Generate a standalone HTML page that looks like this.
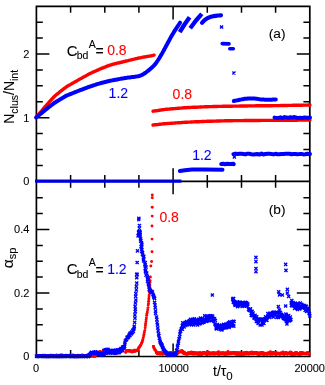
<!DOCTYPE html>
<html><head><meta charset="utf-8"><title>chart</title>
<style>html,body{margin:0;padding:0;background:#fff;}body{width:325px;height:385px;overflow:hidden;font-family:"Liberation Sans",sans-serif;}svg{display:block;will-change:transform;}</style>
</head><body>
<svg width="325" height="385" viewBox="0 0 325 385">
<rect width="100%" height="100%" fill="#fff"/>
<path d="M36.4 6.4 H309.8 V356.5 H36.4 Z M36.4 181.3 H309.8" fill="none" stroke="#000" stroke-width="1.70"/>
<path d="M70.6 6.4 v6.4 M70.6 174.9 v12.8 M70.6 356.5 v-6.4 M104.8 6.4 v6.4 M104.8 174.9 v12.8 M104.8 356.5 v-6.4 M138.9 6.4 v6.4 M138.9 174.9 v12.8 M138.9 356.5 v-6.4 M173.1 6.4 v13.0 M173.1 168.3 v26.0 M173.1 356.5 v-13.0 M207.3 6.4 v6.4 M207.3 174.9 v12.8 M207.3 356.5 v-6.4 M241.5 6.4 v6.4 M241.5 174.9 v12.8 M241.5 356.5 v-6.4 M275.6 6.4 v6.4 M275.6 174.9 v12.8 M275.6 356.5 v-6.4 M36.4 165.4 h6.4 M309.8 165.4 h-6.4 M36.4 149.5 h6.4 M309.8 149.5 h-6.4 M36.4 133.6 h6.4 M309.8 133.6 h-6.4 M36.4 117.7 h13.0 M309.8 117.7 h-13.0 M36.4 101.7 h6.4 M309.8 101.7 h-6.4 M36.4 85.8 h6.4 M309.8 85.8 h-6.4 M36.4 69.9 h6.4 M309.8 69.9 h-6.4 M36.4 54.0 h13.0 M309.8 54.0 h-13.0 M36.4 38.1 h6.4 M309.8 38.1 h-6.4 M36.4 22.2 h6.4 M309.8 22.2 h-6.4 M36.4 340.6 h6.4 M309.8 340.6 h-6.4 M36.4 324.8 h6.4 M309.8 324.8 h-6.4 M36.4 308.9 h6.4 M309.8 308.9 h-6.4 M36.4 293.0 h13.0 M309.8 293.0 h-13.0 M36.4 277.1 h6.4 M309.8 277.1 h-6.4 M36.4 261.2 h6.4 M309.8 261.2 h-6.4 M36.4 245.4 h6.4 M309.8 245.4 h-6.4 M36.4 229.5 h13.0 M309.8 229.5 h-13.0 M36.4 213.6 h6.4 M309.8 213.6 h-6.4 M36.4 197.8 h6.4 M309.8 197.8 h-6.4" fill="none" stroke="#000" stroke-width="1.5"/>
<g>
<path d="M36.1 117.5 L37.1 116.3 L38.1 115.1 L39.1 113.9 L40.1 112.7 L41.1 111.5 L42.1 110.3 L43.1 109.1 L44.1 107.9 L45.1 106.7 L46.1 105.6 L47.1 104.5 L48.1 103.3 L49.1 102.2 L50.1 101.1 L51.1 100.0 L52.1 98.9 L53.1 97.8 L54.1 96.8 L55.1 95.8 L56.1 94.9 L57.1 94.1 L58.1 93.3 L59.1 92.5 L60.1 91.7 L61.1 90.9 L62.1 90.1 L63.1 89.3 L64.1 88.5 L65.1 87.8 L66.1 87.1 L67.1 86.4 L68.1 85.8 L69.1 85.2 L70.1 84.7 L71.1 84.1 L72.1 83.5 L73.1 82.9 L74.1 82.4 L75.1 81.8 L76.1 81.2 L77.1 80.7 L78.1 80.1 L79.1 79.5 L80.1 79.0 L81.1 78.4 L82.1 77.9 L83.1 77.3 L84.1 76.8 L85.1 76.2 L86.1 75.7 L87.1 75.1 L88.1 74.5 L89.1 74.0 L90.1 73.5 L91.1 73.0 L92.1 72.6 L93.1 72.1 L94.1 71.7 L95.1 71.2 L96.1 70.8 L97.1 70.3 L98.1 69.9 L99.1 69.4 L100.1 69.0 L101.1 68.6 L102.1 68.2 L103.1 67.8 L104.1 67.4 L105.1 67.0 L106.1 66.6 L107.1 66.2 L108.1 65.8 L109.1 65.4 L110.1 65.1 L111.1 64.8 L112.1 64.5 L113.1 64.2 L114.1 64.0 L115.1 63.7 L116.1 63.5 L117.1 63.2 L118.1 63.0 L119.1 62.8 L120.1 62.5 L121.1 62.3 L122.1 62.0 L123.1 61.8 L124.1 61.5 L125.1 61.3 L126.1 61.0 L127.1 60.8 L128.1 60.6 L129.1 60.3 L130.1 60.1 L131.1 59.9 L132.1 59.6 L133.1 59.4 L134.1 59.2 L135.1 58.9 L136.1 58.7 L137.1 58.5 L138.1 58.2 L139.1 58.0 L140.1 57.8 L141.1 57.6 L142.1 57.4 L143.1 57.2 L144.1 57.0 L145.1 56.9 L146.1 56.7 L147.1 56.5 L148.1 56.3 L149.1 56.1 L150.1 56.0 L151.1 55.8 L152.1 55.6 L153.1 55.4 L154.1 55.2" fill="none" stroke="#ff0000" stroke-width="3.40" stroke-linecap="round" stroke-linejoin="round"/>
<path d="M153.0 111.2 L154.0 111.0 L155.0 110.9 L156.0 110.8 L157.0 110.6 L158.0 110.5 L159.0 110.3 L160.0 110.2 L161.0 110.0 L162.0 109.8 L163.0 109.7 L164.0 109.6 L165.0 109.4 L166.0 109.3 L167.0 109.2 L168.0 109.1 L169.0 109.1 L170.0 109.0 L171.0 108.9 L172.0 108.8 L173.0 108.7 L174.0 108.6 L175.0 108.6 L176.0 108.5 L177.0 108.4 L178.0 108.3 L179.0 108.2 L180.0 108.1 L181.0 108.1 L182.0 108.0 L183.0 107.9 L184.0 107.8 L185.0 107.7 L186.0 107.7 L187.0 107.6 L188.0 107.5 L189.0 107.5 L190.0 107.5 L191.0 107.4 L192.0 107.4 L193.0 107.3 L194.0 107.3 L195.0 107.2 L196.0 107.2 L197.0 107.2 L198.0 107.1 L199.0 107.1 L200.0 107.0 L201.0 107.0 L202.0 106.9 L203.0 106.9 L204.0 106.9 L205.0 106.8 L206.0 106.8 L207.0 106.7 L208.0 106.7 L209.0 106.6 L210.0 106.6 L211.0 106.6 L212.0 106.6 L213.0 106.5 L214.0 106.5 L215.0 106.5 L216.0 106.5 L217.0 106.5 L218.0 106.4 L219.0 106.4 L220.0 106.4 L221.0 106.4 L222.0 106.4 L223.0 106.3 L224.0 106.3 L225.0 106.3 L226.0 106.3 L227.0 106.3 L228.0 106.2 L229.0 106.2 L230.0 106.2 L231.0 106.2 L232.0 106.2 L233.0 106.1 L234.0 106.1 L235.0 106.1 L236.0 106.1 L237.0 106.1 L238.0 106.1 L239.0 106.1 L240.0 106.0 L241.0 106.0 L242.0 106.0 L243.0 106.0 L244.0 106.0 L245.0 106.0 L246.0 106.0 L247.0 106.0 L248.0 105.9 L249.0 105.9 L250.0 105.9 L251.0 105.9 L252.0 105.9 L253.0 105.9 L254.0 105.9 L255.0 105.9 L256.0 105.8 L257.0 105.8 L258.0 105.8 L259.0 105.8 L260.0 105.8 L261.0 105.8 L262.0 105.8 L263.0 105.8 L264.0 105.8 L265.0 105.7 L266.0 105.7 L267.0 105.7 L268.0 105.7 L269.0 105.7 L270.0 105.7 L271.0 105.7 L272.0 105.7 L273.0 105.6 L274.0 105.6 L275.0 105.6 L276.0 105.6 L277.0 105.6 L278.0 105.6 L279.0 105.6 L280.0 105.6 L281.0 105.5 L282.0 105.5 L283.0 105.5 L284.0 105.5 L285.0 105.5 L286.0 105.5 L287.0 105.5 L288.0 105.4 L289.0 105.4 L290.0 105.4 L291.0 105.4 L292.0 105.4 L293.0 105.3 L294.0 105.3 L295.0 105.3 L296.0 105.3 L297.0 105.3 L298.0 105.2 L299.0 105.2 L300.0 105.2 L301.0 105.2 L302.0 105.2 L303.0 105.1 L304.0 105.1 L305.0 105.1 L306.0 105.1 L307.0 105.1 L308.0 105.0 L309.0 105.0 L310.0 105.0" fill="none" stroke="#ff0000" stroke-width="3.40" stroke-linecap="round" stroke-linejoin="round"/>
<path d="M153.0 125.0 L154.0 124.9 L155.0 124.8 L156.0 124.7 L157.0 124.6 L158.0 124.5 L159.0 124.3 L160.0 124.2 L161.0 124.1 L162.0 124.0 L163.0 123.9 L164.0 123.8 L165.0 123.7 L166.0 123.6 L167.0 123.6 L168.0 123.5 L169.0 123.4 L170.0 123.4 L171.0 123.3 L172.0 123.2 L173.0 123.1 L174.0 123.1 L175.0 123.0 L176.0 122.9 L177.0 122.9 L178.0 122.8 L179.0 122.7 L180.0 122.7 L181.0 122.6 L182.0 122.5 L183.0 122.4 L184.0 122.4 L185.0 122.3 L186.0 122.2 L187.0 122.2 L188.0 122.1 L189.0 122.1 L190.0 122.1 L191.0 122.0 L192.0 122.0 L193.0 121.9 L194.0 121.9 L195.0 121.8 L196.0 121.8 L197.0 121.8 L198.0 121.7 L199.0 121.7 L200.0 121.6 L201.0 121.6 L202.0 121.5 L203.0 121.5 L204.0 121.5 L205.0 121.4 L206.0 121.4 L207.0 121.3 L208.0 121.3 L209.0 121.2 L210.0 121.2 L211.0 121.2 L212.0 121.2 L213.0 121.1 L214.0 121.1 L215.0 121.1 L216.0 121.1 L217.0 121.0 L218.0 121.0 L219.0 121.0 L220.0 121.0 L221.0 120.9 L222.0 120.9 L223.0 120.9 L224.0 120.9 L225.0 120.8 L226.0 120.8 L227.0 120.8 L228.0 120.8 L229.0 120.7 L230.0 120.7 L231.0 120.7 L232.0 120.7 L233.0 120.6 L234.0 120.6 L235.0 120.6 L236.0 120.6 L237.0 120.6 L238.0 120.6 L239.0 120.6 L240.0 120.6 L241.0 120.6 L242.0 120.6 L243.0 120.6 L244.0 120.5 L245.0 120.5 L246.0 120.5 L247.0 120.5 L248.0 120.5 L249.0 120.5 L250.0 120.5 L251.0 120.5 L252.0 120.5 L253.0 120.5 L254.0 120.5 L255.0 120.5 L256.0 120.5 L257.0 120.5 L258.0 120.5 L259.0 120.5 L260.0 120.5 L261.0 120.4 L262.0 120.4 L263.0 120.4 L264.0 120.4 L265.0 120.4 L266.0 120.4 L267.0 120.4 L268.0 120.4 L269.0 120.4 L270.0 120.4 L271.0 120.4 L272.0 120.4 L273.0 120.4 L274.0 120.4 L275.0 120.4 L276.0 120.4 L277.0 120.3 L278.0 120.3 L279.0 120.3 L280.0 120.3 L281.0 120.3 L282.0 120.3 L283.0 120.3 L284.0 120.3 L285.0 120.3 L286.0 120.3 L287.0 120.3 L288.0 120.3 L289.0 120.3 L290.0 120.2 L291.0 120.2 L292.0 120.2 L293.0 120.2 L294.0 120.2 L295.0 120.2 L296.0 120.2 L297.0 120.2 L298.0 120.1 L299.0 120.1 L300.0 120.1 L301.0 120.1 L302.0 120.1 L303.0 120.1 L304.0 120.1 L305.0 120.1 L306.0 120.0 L307.0 120.0 L308.0 120.0 L309.0 120.0 L310.0 120.0" fill="none" stroke="#ff0000" stroke-width="3.40" stroke-linecap="round" stroke-linejoin="round"/>
<path d="M35.0 181.1 L181.5 181.1" fill="none" stroke="#0000ff" stroke-width="3.30" stroke-linecap="butt" stroke-linejoin="round"/>
<path d="M36.1 117.5 L37.1 116.7 L38.1 115.9 L39.1 115.0 L40.1 114.2 L41.1 113.4 L42.1 112.6 L43.1 111.8 L44.1 110.9 L45.1 110.1 L46.1 109.3 L47.1 108.6 L48.1 107.8 L49.1 107.0 L50.1 106.2 L51.1 105.4 L52.1 104.7 L53.1 103.9 L54.1 103.2 L55.1 102.5 L56.1 101.8 L57.1 101.2 L58.1 100.6 L59.1 100.0 L60.1 99.4 L61.1 98.8 L62.1 98.2 L63.1 97.6 L64.1 97.0 L65.1 96.4 L66.1 95.9 L67.1 95.4 L68.1 95.0 L69.1 94.6 L70.1 94.2 L71.1 93.8 L72.1 93.4 L73.1 93.0 L74.1 92.6 L75.1 92.2 L76.1 91.8 L77.1 91.4 L78.1 91.0 L79.1 90.6 L80.1 90.2 L81.1 89.8 L82.1 89.5 L83.1 89.1 L84.1 88.7 L85.1 88.3 L86.1 88.0 L87.1 87.6 L88.1 87.2 L89.1 86.8 L90.1 86.5 L91.1 86.2 L92.1 85.8 L93.1 85.5 L94.1 85.2 L95.1 84.9 L96.1 84.5 L97.1 84.2 L98.1 83.9 L99.1 83.6 L100.1 83.3 L101.1 83.0 L102.1 82.8 L103.1 82.5 L104.1 82.3 L105.1 82.0 L106.1 81.8 L107.1 81.5 L108.1 81.3 L109.1 81.0 L110.1 80.8 L111.1 80.6 L112.1 80.4 L113.1 80.2 L114.1 80.0 L115.1 79.8 L116.1 79.7 L117.1 79.5 L118.1 79.3 L119.1 79.1 L120.1 78.9 L121.1 78.7 L122.1 78.5 L123.1 78.4 L124.1 78.2 L125.1 78.0 L126.1 77.9 L127.1 77.7 L128.1 77.6 L129.1 77.5 L130.1 77.4 L131.1 77.2 L132.1 77.1 L133.1 77.0 L134.1 76.9 L135.1 76.7 L136.1 76.6 L137.1 76.4 L138.1 76.2 L139.1 76.0 L140.1 75.7 L141.1 75.3 L142.1 74.9 L143.1 74.3 L144.1 73.7 L145.1 73.0 L146.1 72.3 L147.1 71.5 L148.1 70.7 L149.1 69.9 L150.1 69.1 L151.1 68.2 L152.1 67.4 L153.1 66.4 L154.1 65.4 L155.1 64.2 L156.1 63.0 L157.1 61.5 L158.1 60.0 L159.1 58.5 L160.1 56.8 L161.1 55.1 L162.1 53.4 L163.1 51.6 L164.1 49.7 L165.1 47.9 L166.1 46.0 L167.1 44.2 L168.1 42.3 L169.1 40.5 L170.1 38.6 L171.1 36.8 L172.1 35.1 L173.1 33.4 L174.1 31.7 L175.1 30.2 L176.1 28.6 L177.1 27.1 L178.1 25.6 L179.1 24.2 L180.1 22.7" fill="none" stroke="#0000ff" stroke-width="4.00" stroke-linecap="round" stroke-linejoin="round"/>
<path d="M179.7 32.2 L184.5 24.5 L189.6 17.3" fill="none" stroke="#0000ff" stroke-width="4.30" stroke-linecap="butt" stroke-linejoin="round"/>
<path d="M190.2 28.2 L196.0 20.5 L201.8 13.8" fill="none" stroke="#0000ff" stroke-width="4.30" stroke-linecap="butt" stroke-linejoin="round"/>
<path d="M202.0 22.8 L203.0 21.7 L204.0 20.7 L205.0 19.9 L206.0 19.1 L207.0 18.5 L208.0 17.9 L209.0 17.5 L210.0 17.1 L211.0 16.8 L212.0 16.5 L213.0 16.3 L214.0 16.1 L215.0 15.9 L216.0 15.8 L217.0 15.7 L218.0 15.5 L219.0 15.5 L220.0 15.4 L221.0 15.3" fill="none" stroke="#0000ff" stroke-width="4.20" stroke-linecap="round" stroke-linejoin="round"/>
<path d="M222.2 43.6 L229.0 43.9" fill="none" stroke="#0000ff" stroke-width="3.60" stroke-linecap="round" stroke-linejoin="round"/>
<path d="M229.8 48.8 L233.3 48.8" fill="none" stroke="#0000ff" stroke-width="3.60" stroke-linecap="round" stroke-linejoin="round"/>
<path d="M179.8 171.0 L185.0 170.3 L192.0 169.5 L205.0 169.5 L222.5 169.7" fill="none" stroke="#0000ff" stroke-width="4.00" stroke-linecap="round" stroke-linejoin="round"/>
<path d="M221.2 164.0 L223.2 163.8 L225.2 164.2 L227.2 163.8 L229.2 164.1 L231.2 164.0 L233.2 163.7 L233.8 164.1" fill="none" stroke="#0000ff" stroke-width="4.00" stroke-linecap="round" stroke-linejoin="round"/>
<path d="M233.4 154.1 L235.4 153.6 L237.4 154.0 L239.4 153.7 L241.4 153.7 L243.4 154.0 L245.4 154.4 L247.4 153.7 L249.4 153.8 L251.4 154.2 L253.4 154.5 L255.4 154.2 L257.4 154.0 L259.4 154.6 L261.4 153.6 L263.4 154.5 L265.4 153.9 L267.4 153.7 L269.4 153.7 L271.4 153.9 L273.4 154.4 L275.4 153.8 L277.4 154.2 L279.4 154.2 L281.4 154.0 L283.4 154.1 L285.4 153.7 L287.4 153.7 L289.4 153.8 L291.4 154.3 L293.4 154.0 L295.4 153.9 L297.4 154.2 L299.4 154.1 L301.4 153.9 L303.4 154.4 L305.4 154.3 L307.4 153.8 L309.4 154.2 L310.0 154.1" fill="none" stroke="#0000ff" stroke-width="4.00" stroke-linecap="round" stroke-linejoin="round"/>
<path d="M233.8 101.0 L234.8 100.8 L235.8 100.6 L236.8 100.4 L237.8 100.2 L238.8 100.0 L239.8 99.8 L240.8 99.6 L241.8 99.4 L242.8 99.2 L243.8 99.0 L244.8 98.8 L245.8 98.7 L246.8 98.7 L247.8 98.6 L248.8 98.6 L249.8 98.6 L250.8 98.6 L251.8 98.6 L252.8 98.5 L253.8 98.6 L254.8 98.6 L255.8 98.7 L256.8 98.8 L257.8 98.9 L258.8 99.1 L259.8 99.3 L260.8 99.4 L261.8 99.5 L262.8 99.6 L263.8 99.6 L264.8 99.7 L265.8 99.7 L266.8 99.7 L267.8 99.7 L268.8 99.8 L269.8 99.8 L270.8 99.7 L271.8 99.7 L272.8 99.6 L273.8 99.6 L274.8 99.5 L275.8 99.4" fill="none" stroke="#0000ff" stroke-width="4.00" stroke-linecap="round" stroke-linejoin="round"/>
<path d="M274.5 117.6 L276.5 118.1 L278.5 117.9 L280.5 117.3 L282.5 118.2 L284.5 117.1 L286.5 117.5 L288.5 117.9 L290.5 117.2 L292.5 117.6 L294.5 117.0 L296.5 117.8 L298.5 117.9 L300.5 117.7 L302.5 118.1 L304.5 117.4 L306.5 117.8 L308.5 117.7 L310.0 117.6" fill="none" stroke="#0000ff" stroke-width="4.00" stroke-linecap="round" stroke-linejoin="round"/>
</g>
<g fill="#ff0000"><circle cx="36.5" cy="355.6" r="1.45"/><circle cx="37.4" cy="356.4" r="1.45"/><circle cx="38.1" cy="356.0" r="1.45"/><circle cx="38.8" cy="356.0" r="1.45"/><circle cx="39.7" cy="356.5" r="1.45"/><circle cx="40.6" cy="355.4" r="1.45"/><circle cx="41.3" cy="356.0" r="1.45"/><circle cx="42.0" cy="355.6" r="1.45"/><circle cx="42.8" cy="355.1" r="1.45"/><circle cx="43.6" cy="356.1" r="1.45"/><circle cx="44.4" cy="355.3" r="1.45"/><circle cx="45.3" cy="356.3" r="1.45"/><circle cx="46.0" cy="355.6" r="1.45"/><circle cx="46.9" cy="356.3" r="1.45"/><circle cx="47.8" cy="356.3" r="1.45"/><circle cx="48.4" cy="355.6" r="1.45"/><circle cx="49.3" cy="356.3" r="1.45"/><circle cx="50.2" cy="355.1" r="1.45"/><circle cx="50.8" cy="355.3" r="1.45"/><circle cx="51.6" cy="355.7" r="1.45"/><circle cx="52.5" cy="355.3" r="1.45"/><circle cx="53.2" cy="355.6" r="1.45"/><circle cx="54.1" cy="355.8" r="1.45"/><circle cx="55.0" cy="356.0" r="1.45"/><circle cx="55.7" cy="355.9" r="1.45"/><circle cx="56.6" cy="355.0" r="1.45"/><circle cx="57.4" cy="356.1" r="1.45"/><circle cx="58.2" cy="356.2" r="1.45"/><circle cx="58.9" cy="355.5" r="1.45"/><circle cx="59.6" cy="355.9" r="1.45"/><circle cx="60.4" cy="355.0" r="1.45"/><circle cx="61.2" cy="355.2" r="1.45"/><circle cx="62.1" cy="355.0" r="1.45"/><circle cx="62.8" cy="355.1" r="1.45"/><circle cx="63.6" cy="355.5" r="1.45"/><circle cx="64.4" cy="356.3" r="1.45"/><circle cx="65.3" cy="355.1" r="1.45"/><circle cx="66.0" cy="355.5" r="1.45"/><circle cx="66.9" cy="355.1" r="1.45"/><circle cx="67.8" cy="356.5" r="1.45"/><circle cx="68.5" cy="355.7" r="1.45"/><circle cx="69.2" cy="355.1" r="1.45"/><circle cx="70.1" cy="355.3" r="1.45"/><circle cx="71.0" cy="355.2" r="1.45"/><circle cx="71.6" cy="356.4" r="1.45"/><circle cx="72.5" cy="355.1" r="1.45"/><circle cx="73.3" cy="354.9" r="1.45"/><circle cx="74.1" cy="356.5" r="1.45"/><circle cx="75.0" cy="356.0" r="1.45"/><circle cx="75.6" cy="355.5" r="1.45"/><circle cx="76.4" cy="356.1" r="1.45"/><circle cx="77.3" cy="356.1" r="1.45"/><circle cx="78.0" cy="355.3" r="1.45"/><circle cx="79.0" cy="356.5" r="1.45"/><circle cx="79.8" cy="356.2" r="1.45"/><circle cx="80.6" cy="356.1" r="1.45"/><circle cx="81.2" cy="355.7" r="1.45"/><circle cx="82.1" cy="354.9" r="1.45"/><circle cx="82.8" cy="355.3" r="1.45"/><circle cx="83.6" cy="356.0" r="1.45"/><circle cx="84.6" cy="355.6" r="1.45"/><circle cx="85.4" cy="356.5" r="1.45"/><circle cx="86.2" cy="355.5" r="1.45"/><circle cx="86.8" cy="355.3" r="1.45"/><circle cx="87.6" cy="355.2" r="1.45"/><circle cx="88.5" cy="356.3" r="1.45"/><circle cx="89.4" cy="355.7" r="1.45"/><circle cx="90.1" cy="356.2" r="1.45"/><circle cx="90.8" cy="356.0" r="1.45"/><circle cx="91.8" cy="356.2" r="1.45"/><circle cx="92.6" cy="355.7" r="1.45"/><circle cx="93.2" cy="356.2" r="1.45"/><circle cx="94.0" cy="356.2" r="1.45"/><circle cx="95.0" cy="355.5" r="1.45"/><circle cx="95.0" cy="356.5" r="1.45"/><circle cx="95.5" cy="354.7" r="1.45"/><circle cx="95.7" cy="354.3" r="1.45"/><circle cx="96.4" cy="355.1" r="1.45"/><circle cx="96.6" cy="354.7" r="1.45"/><circle cx="97.2" cy="354.0" r="1.45"/><circle cx="97.5" cy="353.5" r="1.45"/><circle cx="97.8" cy="352.1" r="1.45"/><circle cx="98.5" cy="352.9" r="1.45"/><circle cx="98.8" cy="353.0" r="1.45"/><circle cx="99.2" cy="352.7" r="1.45"/><circle cx="99.7" cy="351.5" r="1.45"/><circle cx="100.0" cy="351.6" r="1.45"/><circle cx="100.4" cy="352.2" r="1.45"/><circle cx="100.8" cy="351.9" r="1.45"/><circle cx="101.2" cy="352.7" r="1.45"/><circle cx="101.7" cy="351.9" r="1.45"/><circle cx="102.2" cy="352.7" r="1.45"/><circle cx="102.5" cy="352.8" r="1.45"/><circle cx="103.0" cy="352.1" r="1.45"/><circle cx="103.4" cy="351.1" r="1.45"/><circle cx="103.8" cy="351.4" r="1.45"/><circle cx="104.1" cy="352.5" r="1.45"/><circle cx="104.6" cy="352.1" r="1.45"/><circle cx="105.1" cy="352.5" r="1.45"/><circle cx="105.4" cy="352.7" r="1.45"/><circle cx="105.9" cy="353.4" r="1.45"/><circle cx="106.2" cy="353.3" r="1.45"/><circle cx="125.7" cy="352.6" r="1.45"/><circle cx="126.0" cy="350.7" r="1.45"/><circle cx="126.5" cy="350.9" r="1.45"/><circle cx="126.8" cy="350.8" r="1.45"/><circle cx="127.2" cy="350.8" r="1.45"/><circle cx="127.7" cy="351.0" r="1.45"/><circle cx="128.3" cy="351.0" r="1.45"/><circle cx="128.6" cy="350.7" r="1.45"/><circle cx="129.0" cy="350.4" r="1.45"/><circle cx="129.4" cy="350.4" r="1.45"/><circle cx="129.9" cy="351.4" r="1.45"/><circle cx="130.2" cy="351.2" r="1.45"/><circle cx="130.8" cy="350.6" r="1.45"/><circle cx="131.2" cy="351.1" r="1.45"/><circle cx="131.5" cy="351.8" r="1.45"/><circle cx="131.9" cy="351.2" r="1.45"/><circle cx="132.4" cy="352.1" r="1.45"/><circle cx="132.8" cy="351.8" r="1.45"/><circle cx="133.3" cy="351.4" r="1.45"/><circle cx="133.6" cy="350.8" r="1.45"/><circle cx="133.9" cy="350.3" r="1.45"/><circle cx="134.4" cy="351.3" r="1.45"/><circle cx="134.8" cy="350.2" r="1.45"/><circle cx="135.2" cy="351.4" r="1.45"/><circle cx="135.9" cy="351.0" r="1.45"/><circle cx="136.1" cy="350.1" r="1.45"/><circle cx="136.5" cy="350.4" r="1.45"/><circle cx="136.9" cy="350.3" r="1.45"/><circle cx="137.3" cy="350.8" r="1.45"/><circle cx="138.0" cy="349.5" r="1.45"/><circle cx="138.2" cy="349.7" r="1.45"/><circle cx="138.6" cy="348.0" r="1.45"/><circle cx="138.9" cy="347.8" r="1.45"/><circle cx="139.4" cy="347.3" r="1.45"/><circle cx="139.8" cy="346.8" r="1.45"/><circle cx="140.1" cy="346.0" r="1.45"/><circle cx="140.6" cy="345.5" r="1.45"/><circle cx="141.0" cy="344.5" r="1.45"/><circle cx="141.5" cy="343.3" r="1.45"/><circle cx="142.0" cy="342.2" r="1.45"/><circle cx="142.4" cy="340.9" r="1.45"/><circle cx="142.8" cy="339.7" r="1.45"/><circle cx="143.2" cy="337.9" r="1.45"/><circle cx="143.7" cy="336.0" r="1.45"/><circle cx="144.0" cy="334.4" r="1.45"/><circle cx="144.3" cy="332.5" r="1.45"/><circle cx="144.8" cy="330.4" r="1.45"/><circle cx="145.2" cy="327.7" r="1.45"/><circle cx="145.4" cy="325.5" r="1.45"/><circle cx="145.6" cy="323.7" r="1.45"/><circle cx="145.9" cy="321.7" r="1.45"/><circle cx="146.1" cy="319.8" r="1.45"/><circle cx="146.4" cy="317.8" r="1.45"/><circle cx="146.7" cy="315.2" r="1.45"/><circle cx="147.0" cy="313.5" r="1.45"/><circle cx="147.3" cy="311.9" r="1.45"/><circle cx="147.7" cy="309.7" r="1.45"/><circle cx="148.0" cy="307.6" r="1.45"/><circle cx="148.2" cy="304.9" r="1.45"/><circle cx="148.5" cy="303.5" r="1.45"/><circle cx="148.6" cy="301.3" r="1.45"/><circle cx="148.8" cy="298.9" r="1.45"/><circle cx="149.0" cy="297.1" r="1.45"/><circle cx="149.1" cy="295.1" r="1.45"/><circle cx="149.4" cy="292.5" r="1.45"/><circle cx="149.5" cy="291.1" r="1.45"/><circle cx="149.6" cy="288.7" r="1.45"/><circle cx="149.7" cy="286.9" r="1.45"/><circle cx="149.9" cy="284.9" r="1.45"/><circle cx="150.0" cy="282.4" r="1.45"/><circle cx="150.1" cy="280.6" r="1.45"/><circle cx="150.4" cy="277.0" r="1.45"/><circle cx="150.8" cy="266.0" r="1.45"/><circle cx="151.6" cy="261.5" r="1.45"/><circle cx="152.0" cy="251.8" r="1.45"/><circle cx="152.0" cy="239.1" r="1.45"/><circle cx="152.0" cy="226.0" r="1.45"/><circle cx="152.2" cy="216.1" r="1.45"/><circle cx="152.2" cy="207.3" r="1.45"/><circle cx="152.3" cy="197.8" r="1.45"/><circle cx="152.3" cy="195.0" r="1.45"/><circle cx="153.5" cy="346.5" r="1.45"/><circle cx="153.5" cy="346.4" r="1.45"/><circle cx="153.4" cy="346.4" r="1.45"/><circle cx="154.0" cy="348.4" r="1.45"/><circle cx="154.5" cy="348.6" r="1.45"/><circle cx="154.8" cy="350.1" r="1.45"/><circle cx="155.2" cy="350.0" r="1.45"/><circle cx="155.8" cy="350.6" r="1.45"/><circle cx="156.2" cy="352.7" r="1.45"/><circle cx="156.4" cy="352.0" r="1.45"/><circle cx="157.0" cy="353.6" r="1.45"/><circle cx="157.3" cy="352.4" r="1.45"/><circle cx="157.7" cy="354.1" r="1.45"/><circle cx="158.1" cy="353.3" r="1.45"/><circle cx="158.5" cy="353.3" r="1.45"/><circle cx="159.2" cy="352.5" r="1.45"/><circle cx="159.5" cy="353.4" r="1.45"/><circle cx="160.0" cy="353.9" r="1.45"/><circle cx="160.2" cy="354.4" r="1.45"/><circle cx="160.7" cy="352.5" r="1.45"/><circle cx="161.0" cy="353.5" r="1.45"/><circle cx="161.5" cy="353.1" r="1.45"/><circle cx="161.9" cy="353.2" r="1.45"/><circle cx="162.3" cy="354.2" r="1.45"/><circle cx="162.7" cy="354.1" r="1.45"/><circle cx="163.3" cy="352.7" r="1.45"/><circle cx="163.8" cy="354.0" r="1.45"/><circle cx="164.2" cy="353.0" r="1.45"/><circle cx="164.5" cy="353.3" r="1.45"/><circle cx="165.1" cy="353.7" r="1.45"/><circle cx="165.3" cy="353.3" r="1.45"/><circle cx="165.7" cy="352.5" r="1.45"/><circle cx="166.1" cy="354.2" r="1.45"/><circle cx="166.5" cy="354.5" r="1.45"/><circle cx="166.9" cy="353.0" r="1.45"/><circle cx="167.4" cy="352.8" r="1.45"/><circle cx="167.8" cy="354.5" r="1.45"/><circle cx="168.4" cy="354.2" r="1.45"/><circle cx="168.7" cy="354.4" r="1.45"/><circle cx="169.2" cy="353.6" r="1.45"/><circle cx="169.6" cy="352.5" r="1.45"/><circle cx="170.0" cy="353.4" r="1.45"/><circle cx="170.4" cy="353.8" r="1.45"/><circle cx="170.7" cy="352.5" r="1.45"/><circle cx="171.3" cy="352.7" r="1.45"/><circle cx="171.6" cy="353.2" r="1.45"/><circle cx="172.0" cy="354.0" r="1.45"/><circle cx="172.6" cy="353.0" r="1.45"/><circle cx="172.9" cy="353.1" r="1.45"/><circle cx="173.3" cy="353.3" r="1.45"/><circle cx="173.6" cy="352.8" r="1.45"/><circle cx="174.1" cy="354.4" r="1.45"/><circle cx="174.6" cy="352.9" r="1.45"/><circle cx="175.1" cy="354.6" r="1.45"/><circle cx="175.4" cy="352.7" r="1.45"/><circle cx="175.7" cy="352.6" r="1.45"/><circle cx="176.2" cy="352.6" r="1.45"/><circle cx="176.6" cy="353.0" r="1.45"/><circle cx="177.1" cy="354.3" r="1.45"/><circle cx="177.6" cy="353.0" r="1.45"/><circle cx="177.9" cy="352.9" r="1.45"/><circle cx="178.3" cy="352.3" r="1.45"/><circle cx="178.6" cy="351.9" r="1.45"/><circle cx="179.3" cy="351.3" r="1.45"/><circle cx="179.6" cy="352.2" r="1.45"/><circle cx="180.1" cy="351.2" r="1.45"/><circle cx="180.4" cy="351.1" r="1.45"/><circle cx="180.8" cy="351.3" r="1.45"/><circle cx="181.4" cy="352.1" r="1.45"/><circle cx="181.8" cy="350.5" r="1.45"/><circle cx="182.0" cy="352.2" r="1.45"/><circle cx="182.7" cy="351.9" r="1.45"/><circle cx="183.0" cy="351.1" r="1.45"/><circle cx="183.4" cy="353.4" r="1.45"/><circle cx="183.9" cy="353.5" r="1.45"/><circle cx="184.4" cy="352.4" r="1.45"/><circle cx="184.5" cy="352.5" r="1.45"/><circle cx="185.1" cy="353.9" r="1.45"/><circle cx="185.6" cy="354.0" r="1.45"/><circle cx="186.0" cy="354.1" r="1.45"/><circle cx="186.3" cy="353.6" r="1.45"/><circle cx="186.6" cy="354.1" r="1.45"/><circle cx="187.1" cy="354.4" r="1.45"/><circle cx="187.6" cy="353.1" r="1.45"/><circle cx="187.9" cy="353.0" r="1.45"/><circle cx="188.5" cy="353.9" r="1.45"/><circle cx="188.7" cy="352.6" r="1.45"/><circle cx="189.3" cy="353.7" r="1.45"/><circle cx="189.7" cy="352.9" r="1.45"/><circle cx="190.1" cy="352.4" r="1.45"/><circle cx="190.5" cy="353.4" r="1.45"/><circle cx="191.1" cy="353.8" r="1.45"/><circle cx="191.5" cy="353.4" r="1.45"/><circle cx="191.7" cy="352.9" r="1.45"/><circle cx="192.4" cy="354.0" r="1.45"/><circle cx="192.6" cy="352.4" r="1.45"/><circle cx="193.1" cy="353.9" r="1.45"/><circle cx="193.4" cy="353.0" r="1.45"/><circle cx="193.9" cy="354.4" r="1.45"/><circle cx="194.2" cy="352.5" r="1.45"/><circle cx="194.7" cy="353.3" r="1.45"/><circle cx="195.2" cy="352.8" r="1.45"/><circle cx="195.7" cy="354.0" r="1.45"/><circle cx="196.0" cy="352.9" r="1.45"/><circle cx="196.6" cy="353.1" r="1.45"/><circle cx="196.9" cy="352.9" r="1.45"/><circle cx="197.2" cy="354.1" r="1.45"/><circle cx="197.6" cy="354.5" r="1.45"/><circle cx="198.1" cy="352.8" r="1.45"/><circle cx="198.4" cy="353.3" r="1.45"/><circle cx="199.0" cy="354.5" r="1.45"/><circle cx="199.2" cy="353.3" r="1.45"/><circle cx="199.7" cy="354.5" r="1.45"/><circle cx="200.1" cy="352.5" r="1.45"/><circle cx="200.5" cy="353.3" r="1.45"/><circle cx="201.2" cy="354.3" r="1.45"/><circle cx="201.5" cy="354.6" r="1.45"/><circle cx="202.0" cy="353.1" r="1.45"/><circle cx="202.2" cy="354.5" r="1.45"/><circle cx="202.8" cy="352.5" r="1.45"/><circle cx="203.2" cy="353.2" r="1.45"/><circle cx="203.5" cy="353.1" r="1.45"/><circle cx="203.9" cy="352.4" r="1.45"/><circle cx="204.3" cy="353.2" r="1.45"/><circle cx="204.9" cy="352.7" r="1.45"/><circle cx="205.4" cy="352.9" r="1.45"/><circle cx="205.6" cy="354.2" r="1.45"/><circle cx="206.2" cy="353.4" r="1.45"/><circle cx="206.4" cy="353.4" r="1.45"/><circle cx="206.9" cy="354.4" r="1.45"/><circle cx="207.2" cy="353.2" r="1.45"/><circle cx="207.9" cy="352.5" r="1.45"/><circle cx="208.1" cy="354.2" r="1.45"/><circle cx="208.7" cy="352.5" r="1.45"/><circle cx="208.9" cy="352.5" r="1.45"/><circle cx="209.6" cy="353.0" r="1.45"/><circle cx="209.9" cy="354.4" r="1.45"/><circle cx="210.2" cy="353.0" r="1.45"/><circle cx="210.8" cy="353.8" r="1.45"/><circle cx="211.0" cy="354.0" r="1.45"/><circle cx="211.5" cy="353.0" r="1.45"/><circle cx="211.8" cy="354.1" r="1.45"/><circle cx="212.5" cy="353.8" r="1.45"/><circle cx="212.9" cy="352.5" r="1.45"/><circle cx="213.1" cy="353.4" r="1.45"/><circle cx="213.8" cy="354.5" r="1.45"/><circle cx="214.0" cy="353.0" r="1.45"/><circle cx="214.5" cy="353.5" r="1.45"/><circle cx="215.0" cy="352.8" r="1.45"/><circle cx="215.4" cy="354.0" r="1.45"/><circle cx="215.8" cy="354.1" r="1.45"/><circle cx="216.2" cy="353.1" r="1.45"/><circle cx="216.5" cy="353.2" r="1.45"/><circle cx="217.1" cy="352.6" r="1.45"/><circle cx="217.3" cy="354.1" r="1.45"/><circle cx="217.8" cy="352.5" r="1.45"/><circle cx="218.1" cy="353.6" r="1.45"/><circle cx="218.6" cy="354.6" r="1.45"/><circle cx="219.2" cy="354.6" r="1.45"/><circle cx="219.4" cy="352.6" r="1.45"/><circle cx="219.8" cy="353.5" r="1.45"/><circle cx="220.4" cy="353.4" r="1.45"/><circle cx="220.7" cy="353.3" r="1.45"/><circle cx="221.2" cy="353.9" r="1.45"/><circle cx="221.7" cy="354.3" r="1.45"/><circle cx="222.1" cy="352.7" r="1.45"/><circle cx="222.6" cy="353.0" r="1.45"/><circle cx="222.9" cy="353.2" r="1.45"/><circle cx="223.4" cy="352.8" r="1.45"/><circle cx="223.6" cy="352.9" r="1.45"/><circle cx="224.0" cy="354.3" r="1.45"/><circle cx="224.6" cy="353.1" r="1.45"/><circle cx="224.9" cy="354.6" r="1.45"/><circle cx="225.4" cy="352.9" r="1.45"/><circle cx="225.9" cy="353.8" r="1.45"/><circle cx="226.4" cy="352.6" r="1.45"/><circle cx="226.6" cy="354.2" r="1.45"/><circle cx="227.2" cy="354.4" r="1.45"/><circle cx="227.4" cy="353.0" r="1.45"/><circle cx="227.8" cy="352.8" r="1.45"/><circle cx="228.5" cy="353.7" r="1.45"/><circle cx="228.9" cy="353.2" r="1.45"/><circle cx="229.3" cy="353.4" r="1.45"/><circle cx="229.5" cy="354.1" r="1.45"/><circle cx="230.1" cy="352.6" r="1.45"/><circle cx="230.5" cy="353.8" r="1.45"/><circle cx="230.8" cy="353.2" r="1.45"/><circle cx="231.2" cy="352.8" r="1.45"/><circle cx="231.6" cy="353.7" r="1.45"/><circle cx="232.2" cy="352.8" r="1.45"/><circle cx="232.4" cy="353.1" r="1.45"/><circle cx="233.0" cy="352.8" r="1.45"/><circle cx="233.3" cy="352.8" r="1.45"/><circle cx="233.9" cy="353.6" r="1.45"/><circle cx="234.1" cy="352.6" r="1.45"/><circle cx="234.6" cy="353.6" r="1.45"/><circle cx="235.1" cy="352.6" r="1.45"/><circle cx="235.4" cy="353.9" r="1.45"/><circle cx="235.9" cy="353.0" r="1.45"/><circle cx="236.3" cy="354.5" r="1.45"/><circle cx="236.7" cy="353.6" r="1.45"/><circle cx="237.1" cy="353.3" r="1.45"/><circle cx="237.7" cy="354.6" r="1.45"/><circle cx="238.0" cy="352.8" r="1.45"/><circle cx="238.5" cy="352.8" r="1.45"/><circle cx="238.7" cy="354.4" r="1.45"/><circle cx="239.2" cy="354.2" r="1.45"/><circle cx="239.6" cy="354.3" r="1.45"/><circle cx="240.1" cy="352.8" r="1.45"/><circle cx="240.4" cy="353.6" r="1.45"/><circle cx="241.0" cy="354.4" r="1.45"/><circle cx="241.2" cy="353.8" r="1.45"/><circle cx="241.7" cy="353.5" r="1.45"/><circle cx="242.1" cy="353.0" r="1.45"/><circle cx="242.6" cy="354.4" r="1.45"/><circle cx="242.9" cy="353.5" r="1.45"/><circle cx="243.5" cy="354.5" r="1.45"/><circle cx="243.8" cy="352.7" r="1.45"/><circle cx="244.4" cy="354.5" r="1.45"/><circle cx="244.7" cy="352.5" r="1.45"/><circle cx="245.3" cy="353.3" r="1.45"/><circle cx="245.7" cy="353.8" r="1.45"/><circle cx="246.1" cy="352.8" r="1.45"/><circle cx="246.5" cy="352.9" r="1.45"/><circle cx="246.8" cy="354.3" r="1.45"/><circle cx="247.3" cy="352.8" r="1.45"/><circle cx="247.6" cy="353.3" r="1.45"/><circle cx="248.1" cy="353.2" r="1.45"/><circle cx="248.4" cy="352.9" r="1.45"/><circle cx="249.0" cy="354.4" r="1.45"/><circle cx="249.2" cy="353.6" r="1.45"/><circle cx="249.8" cy="352.5" r="1.45"/><circle cx="250.3" cy="352.7" r="1.45"/><circle cx="250.6" cy="353.6" r="1.45"/><circle cx="251.1" cy="353.1" r="1.45"/><circle cx="251.4" cy="353.7" r="1.45"/><circle cx="251.8" cy="353.8" r="1.45"/><circle cx="252.3" cy="353.4" r="1.45"/><circle cx="252.5" cy="353.8" r="1.45"/><circle cx="253.1" cy="352.9" r="1.45"/><circle cx="253.6" cy="354.1" r="1.45"/><circle cx="253.9" cy="352.8" r="1.45"/><circle cx="254.4" cy="352.6" r="1.45"/><circle cx="254.7" cy="353.3" r="1.45"/><circle cx="255.1" cy="353.4" r="1.45"/><circle cx="255.6" cy="352.5" r="1.45"/><circle cx="256.1" cy="352.6" r="1.45"/><circle cx="256.5" cy="354.1" r="1.45"/><circle cx="256.9" cy="352.5" r="1.45"/><circle cx="257.3" cy="353.2" r="1.45"/><circle cx="257.9" cy="352.7" r="1.45"/><circle cx="258.3" cy="354.6" r="1.45"/><circle cx="258.6" cy="354.2" r="1.45"/><circle cx="258.9" cy="354.6" r="1.45"/><circle cx="259.4" cy="354.5" r="1.45"/><circle cx="260.0" cy="352.8" r="1.45"/><circle cx="260.3" cy="354.4" r="1.45"/><circle cx="260.5" cy="353.2" r="1.45"/><circle cx="261.2" cy="352.7" r="1.45"/><circle cx="261.6" cy="353.0" r="1.45"/><circle cx="262.0" cy="352.7" r="1.45"/><circle cx="262.4" cy="354.4" r="1.45"/><circle cx="262.7" cy="353.0" r="1.45"/><circle cx="263.2" cy="353.1" r="1.45"/><circle cx="263.5" cy="352.8" r="1.45"/><circle cx="263.9" cy="354.5" r="1.45"/><circle cx="264.5" cy="354.4" r="1.45"/><circle cx="264.8" cy="354.1" r="1.45"/><circle cx="265.2" cy="353.6" r="1.45"/><circle cx="265.8" cy="353.2" r="1.45"/><circle cx="266.2" cy="353.6" r="1.45"/><circle cx="266.6" cy="354.3" r="1.45"/><circle cx="266.9" cy="354.6" r="1.45"/><circle cx="267.4" cy="353.3" r="1.45"/><circle cx="267.9" cy="353.0" r="1.45"/><circle cx="268.4" cy="353.7" r="1.45"/><circle cx="268.6" cy="354.1" r="1.45"/><circle cx="269.1" cy="352.8" r="1.45"/><circle cx="269.6" cy="352.5" r="1.45"/><circle cx="270.0" cy="353.0" r="1.45"/><circle cx="270.4" cy="354.6" r="1.45"/><circle cx="270.8" cy="353.9" r="1.45"/><circle cx="271.1" cy="352.4" r="1.45"/><circle cx="271.5" cy="352.7" r="1.45"/><circle cx="272.0" cy="353.4" r="1.45"/><circle cx="272.4" cy="354.4" r="1.45"/><circle cx="272.7" cy="352.9" r="1.45"/><circle cx="273.3" cy="352.4" r="1.45"/><circle cx="273.5" cy="353.2" r="1.45"/><circle cx="274.0" cy="353.2" r="1.45"/><circle cx="274.4" cy="353.7" r="1.45"/><circle cx="275.0" cy="352.8" r="1.45"/><circle cx="275.4" cy="353.4" r="1.45"/><circle cx="275.7" cy="354.5" r="1.45"/><circle cx="276.1" cy="352.7" r="1.45"/><circle cx="276.5" cy="353.8" r="1.45"/><circle cx="277.2" cy="354.1" r="1.45"/><circle cx="277.4" cy="353.0" r="1.45"/><circle cx="277.7" cy="353.8" r="1.45"/><circle cx="278.3" cy="353.2" r="1.45"/><circle cx="278.8" cy="353.4" r="1.45"/><circle cx="279.3" cy="354.0" r="1.45"/><circle cx="279.5" cy="354.4" r="1.45"/><circle cx="279.9" cy="353.6" r="1.45"/><circle cx="280.4" cy="352.9" r="1.45"/><circle cx="280.7" cy="354.1" r="1.45"/><circle cx="281.1" cy="353.6" r="1.45"/><circle cx="281.8" cy="352.7" r="1.45"/><circle cx="282.0" cy="353.7" r="1.45"/><circle cx="282.5" cy="353.8" r="1.45"/><circle cx="283.0" cy="352.8" r="1.45"/><circle cx="283.3" cy="353.1" r="1.45"/><circle cx="283.6" cy="354.4" r="1.45"/><circle cx="284.3" cy="354.0" r="1.45"/><circle cx="284.5" cy="354.3" r="1.45"/><circle cx="285.1" cy="353.4" r="1.45"/><circle cx="285.5" cy="353.4" r="1.45"/><circle cx="285.8" cy="352.6" r="1.45"/><circle cx="286.2" cy="352.5" r="1.45"/><circle cx="286.7" cy="354.0" r="1.45"/><circle cx="287.2" cy="354.3" r="1.45"/><circle cx="287.6" cy="353.0" r="1.45"/><circle cx="288.0" cy="353.4" r="1.45"/><circle cx="288.5" cy="353.6" r="1.45"/><circle cx="288.7" cy="353.8" r="1.45"/><circle cx="289.4" cy="352.9" r="1.45"/><circle cx="289.8" cy="352.4" r="1.45"/><circle cx="290.0" cy="352.9" r="1.45"/><circle cx="290.6" cy="354.5" r="1.45"/><circle cx="291.0" cy="353.1" r="1.45"/><circle cx="291.4" cy="353.1" r="1.45"/><circle cx="291.7" cy="354.4" r="1.45"/><circle cx="292.2" cy="353.9" r="1.45"/><circle cx="292.6" cy="354.6" r="1.45"/><circle cx="293.0" cy="354.2" r="1.45"/><circle cx="293.5" cy="354.3" r="1.45"/><circle cx="293.8" cy="354.0" r="1.45"/><circle cx="294.3" cy="353.1" r="1.45"/><circle cx="294.6" cy="353.8" r="1.45"/><circle cx="295.0" cy="354.4" r="1.45"/><circle cx="295.4" cy="352.5" r="1.45"/><circle cx="295.8" cy="354.4" r="1.45"/><circle cx="296.3" cy="352.7" r="1.45"/><circle cx="296.7" cy="352.5" r="1.45"/><circle cx="297.3" cy="353.8" r="1.45"/><circle cx="297.7" cy="354.0" r="1.45"/><circle cx="297.9" cy="353.7" r="1.45"/><circle cx="298.4" cy="354.2" r="1.45"/><circle cx="299.0" cy="354.4" r="1.45"/><circle cx="299.2" cy="354.3" r="1.45"/><circle cx="299.9" cy="354.5" r="1.45"/><circle cx="300.0" cy="352.9" r="1.45"/><circle cx="300.5" cy="352.5" r="1.45"/><circle cx="301.1" cy="354.2" r="1.45"/><circle cx="301.5" cy="354.2" r="1.45"/><circle cx="301.9" cy="353.0" r="1.45"/><circle cx="302.1" cy="352.6" r="1.45"/><circle cx="302.7" cy="352.9" r="1.45"/><circle cx="303.0" cy="353.3" r="1.45"/><circle cx="303.4" cy="353.0" r="1.45"/><circle cx="303.9" cy="354.0" r="1.45"/><circle cx="304.3" cy="353.1" r="1.45"/><circle cx="304.9" cy="353.5" r="1.45"/><circle cx="305.3" cy="353.8" r="1.45"/><circle cx="305.5" cy="353.3" r="1.45"/><circle cx="306.0" cy="354.1" r="1.45"/><circle cx="306.4" cy="354.0" r="1.45"/><circle cx="306.9" cy="352.9" r="1.45"/><circle cx="307.4" cy="352.6" r="1.45"/><circle cx="307.8" cy="352.8" r="1.45"/><circle cx="308.0" cy="352.8" r="1.45"/><circle cx="308.6" cy="354.6" r="1.45"/><circle cx="308.8" cy="353.5" r="1.45"/><circle cx="309.4" cy="354.2" r="1.45"/><circle cx="191.4" cy="352.0" r="1.45"/><circle cx="192.5" cy="352.8" r="1.45"/><circle cx="207.7" cy="351.7" r="1.45"/><circle cx="208.7" cy="352.8" r="1.45"/><circle cx="218.6" cy="351.7" r="1.45"/><circle cx="220.2" cy="352.8" r="1.45"/><circle cx="228.0" cy="351.5" r="1.45"/><circle cx="229.1" cy="352.8" r="1.45"/><circle cx="235.2" cy="352.4" r="1.45"/><circle cx="237.2" cy="352.8" r="1.45"/><circle cx="246.6" cy="352.2" r="1.45"/><circle cx="246.5" cy="352.8" r="1.45"/><circle cx="251.8" cy="351.9" r="1.45"/><circle cx="253.6" cy="352.8" r="1.45"/><circle cx="261.2" cy="352.6" r="1.45"/><circle cx="261.9" cy="352.8" r="1.45"/><circle cx="270.4" cy="351.7" r="1.45"/><circle cx="272.6" cy="352.8" r="1.45"/><circle cx="283.0" cy="351.9" r="1.45"/><circle cx="284.6" cy="352.8" r="1.45"/><circle cx="290.5" cy="352.0" r="1.45"/><circle cx="291.9" cy="352.8" r="1.45"/><circle cx="300.5" cy="352.4" r="1.45"/><circle cx="301.1" cy="352.8" r="1.45"/></g>
<path d="M220.0 25.4 l3.1 3.1 M220.0 28.6 l3.1 -3.1 M232.4 71.5 l3.1 3.1 M232.4 74.5 l3.1 -3.1 M232.8 155.3 l3.1 3.1 M232.8 158.5 l3.1 -3.1 M34.9 354.5 l3.1 3.1 M34.9 357.6 l3.1 -3.1 M35.3 354.9 l3.1 3.1 M35.3 358.0 l3.1 -3.1 M35.8 354.8 l3.1 3.1 M35.8 357.9 l3.1 -3.1 M36.1 354.6 l3.1 3.1 M36.1 357.7 l3.1 -3.1 M36.7 354.7 l3.1 3.1 M36.7 357.8 l3.1 -3.1 M36.9 354.6 l3.1 3.1 M36.9 357.7 l3.1 -3.1 M37.6 354.5 l3.1 3.1 M37.6 357.6 l3.1 -3.1 M37.8 354.5 l3.1 3.1 M37.8 357.6 l3.1 -3.1 M38.4 354.9 l3.1 3.1 M38.4 358.0 l3.1 -3.1 M38.6 354.4 l3.1 3.1 M38.6 357.5 l3.1 -3.1 M39.1 354.5 l3.1 3.1 M39.1 357.6 l3.1 -3.1 M39.6 354.4 l3.1 3.1 M39.6 357.5 l3.1 -3.1 M39.9 354.4 l3.1 3.1 M39.9 357.5 l3.1 -3.1 M40.6 354.8 l3.1 3.1 M40.6 357.9 l3.1 -3.1 M40.7 355.0 l3.1 3.1 M40.7 358.1 l3.1 -3.1 M41.1 354.6 l3.1 3.1 M41.1 357.7 l3.1 -3.1 M41.8 354.9 l3.1 3.1 M41.8 358.0 l3.1 -3.1 M42.2 354.6 l3.1 3.1 M42.2 357.7 l3.1 -3.1 M42.4 354.7 l3.1 3.1 M42.4 357.8 l3.1 -3.1 M42.8 354.4 l3.1 3.1 M42.8 357.5 l3.1 -3.1 M43.3 354.3 l3.1 3.1 M43.3 357.4 l3.1 -3.1 M43.7 354.9 l3.1 3.1 M43.7 358.0 l3.1 -3.1 M44.2 354.7 l3.1 3.1 M44.2 357.8 l3.1 -3.1 M44.6 354.6 l3.1 3.1 M44.6 357.7 l3.1 -3.1 M44.9 354.7 l3.1 3.1 M44.9 357.8 l3.1 -3.1 M45.4 354.8 l3.1 3.1 M45.4 357.9 l3.1 -3.1 M46.0 354.6 l3.1 3.1 M46.0 357.7 l3.1 -3.1 M46.3 354.8 l3.1 3.1 M46.3 357.9 l3.1 -3.1 M46.7 354.5 l3.1 3.1 M46.7 357.6 l3.1 -3.1 M47.2 354.9 l3.1 3.1 M47.2 358.0 l3.1 -3.1 M47.6 354.8 l3.1 3.1 M47.6 357.9 l3.1 -3.1 M48.1 354.8 l3.1 3.1 M48.1 357.9 l3.1 -3.1 M48.4 354.6 l3.1 3.1 M48.4 357.7 l3.1 -3.1 M48.8 354.7 l3.1 3.1 M48.8 357.8 l3.1 -3.1 M49.1 354.6 l3.1 3.1 M49.1 357.7 l3.1 -3.1 M49.7 354.8 l3.1 3.1 M49.7 357.9 l3.1 -3.1 M50.1 354.5 l3.1 3.1 M50.1 357.6 l3.1 -3.1 M50.5 354.6 l3.1 3.1 M50.5 357.7 l3.1 -3.1 M50.9 354.6 l3.1 3.1 M50.9 357.7 l3.1 -3.1 M51.4 355.0 l3.1 3.1 M51.4 358.1 l3.1 -3.1 M51.7 354.8 l3.1 3.1 M51.7 357.9 l3.1 -3.1 M52.3 354.6 l3.1 3.1 M52.3 357.7 l3.1 -3.1 M52.6 355.0 l3.1 3.1 M52.6 358.1 l3.1 -3.1 M52.9 354.7 l3.1 3.1 M52.9 357.8 l3.1 -3.1 M53.3 354.8 l3.1 3.1 M53.3 357.9 l3.1 -3.1 M54.0 354.7 l3.1 3.1 M54.0 357.8 l3.1 -3.1 M54.2 354.7 l3.1 3.1 M54.2 357.8 l3.1 -3.1 M54.7 354.8 l3.1 3.1 M54.7 357.9 l3.1 -3.1 M55.1 354.7 l3.1 3.1 M55.1 357.8 l3.1 -3.1 M55.6 354.7 l3.1 3.1 M55.6 357.8 l3.1 -3.1 M55.9 355.0 l3.1 3.1 M55.9 358.1 l3.1 -3.1 M56.3 354.8 l3.1 3.1 M56.3 357.9 l3.1 -3.1 M56.8 354.8 l3.1 3.1 M56.8 357.9 l3.1 -3.1 M57.1 355.0 l3.1 3.1 M57.1 358.1 l3.1 -3.1 M57.6 354.3 l3.1 3.1 M57.6 357.4 l3.1 -3.1 M58.0 354.6 l3.1 3.1 M58.0 357.7 l3.1 -3.1 M58.3 354.6 l3.1 3.1 M58.3 357.7 l3.1 -3.1 M58.9 354.8 l3.1 3.1 M58.9 357.9 l3.1 -3.1 M59.3 354.5 l3.1 3.1 M59.3 357.6 l3.1 -3.1 M59.6 354.8 l3.1 3.1 M59.6 357.9 l3.1 -3.1 M60.3 354.7 l3.1 3.1 M60.3 357.8 l3.1 -3.1 M60.5 354.9 l3.1 3.1 M60.5 358.0 l3.1 -3.1 M61.0 354.4 l3.1 3.1 M61.0 357.5 l3.1 -3.1 M61.3 354.8 l3.1 3.1 M61.3 357.9 l3.1 -3.1 M61.9 354.7 l3.1 3.1 M61.9 357.8 l3.1 -3.1 M62.2 354.7 l3.1 3.1 M62.2 357.8 l3.1 -3.1 M62.6 355.0 l3.1 3.1 M62.6 358.1 l3.1 -3.1 M63.0 354.7 l3.1 3.1 M63.0 357.8 l3.1 -3.1 M63.6 354.9 l3.1 3.1 M63.6 358.0 l3.1 -3.1 M63.9 354.5 l3.1 3.1 M63.9 357.6 l3.1 -3.1 M64.4 354.4 l3.1 3.1 M64.4 357.5 l3.1 -3.1 M64.9 354.5 l3.1 3.1 M64.9 357.6 l3.1 -3.1 M65.3 354.5 l3.1 3.1 M65.3 357.6 l3.1 -3.1 M65.6 354.5 l3.1 3.1 M65.6 357.6 l3.1 -3.1 M66.0 354.4 l3.1 3.1 M66.0 357.5 l3.1 -3.1 M66.3 354.8 l3.1 3.1 M66.3 357.9 l3.1 -3.1 M66.8 354.5 l3.1 3.1 M66.8 357.6 l3.1 -3.1 M67.2 354.6 l3.1 3.1 M67.2 357.7 l3.1 -3.1 M67.7 354.7 l3.1 3.1 M67.7 357.8 l3.1 -3.1 M68.2 354.6 l3.1 3.1 M68.2 357.7 l3.1 -3.1 M68.7 354.9 l3.1 3.1 M68.7 358.0 l3.1 -3.1 M68.8 354.9 l3.1 3.1 M68.8 358.0 l3.1 -3.1 M69.5 354.8 l3.1 3.1 M69.5 357.9 l3.1 -3.1 M69.7 354.9 l3.1 3.1 M69.7 358.0 l3.1 -3.1 M70.3 354.3 l3.1 3.1 M70.3 357.4 l3.1 -3.1 M70.5 355.0 l3.1 3.1 M70.5 358.1 l3.1 -3.1 M71.1 354.5 l3.1 3.1 M71.1 357.6 l3.1 -3.1 M71.4 354.4 l3.1 3.1 M71.4 357.5 l3.1 -3.1 M71.8 354.8 l3.1 3.1 M71.8 357.9 l3.1 -3.1 M72.3 354.4 l3.1 3.1 M72.3 357.5 l3.1 -3.1 M72.9 354.9 l3.1 3.1 M72.9 358.0 l3.1 -3.1 M73.1 354.9 l3.1 3.1 M73.1 358.0 l3.1 -3.1 M73.6 354.8 l3.1 3.1 M73.6 357.9 l3.1 -3.1 M74.1 354.9 l3.1 3.1 M74.1 358.0 l3.1 -3.1 M74.5 354.9 l3.1 3.1 M74.5 358.0 l3.1 -3.1 M74.8 354.8 l3.1 3.1 M74.8 357.9 l3.1 -3.1 M75.3 354.8 l3.1 3.1 M75.3 357.9 l3.1 -3.1 M75.7 354.9 l3.1 3.1 M75.7 358.0 l3.1 -3.1 M76.1 354.5 l3.1 3.1 M76.1 357.6 l3.1 -3.1 M76.5 354.4 l3.1 3.1 M76.5 357.5 l3.1 -3.1 M76.9 354.3 l3.1 3.1 M76.9 357.4 l3.1 -3.1 M77.4 354.4 l3.1 3.1 M77.4 357.5 l3.1 -3.1 M77.8 354.6 l3.1 3.1 M77.8 357.7 l3.1 -3.1 M78.2 354.9 l3.1 3.1 M78.2 358.0 l3.1 -3.1 M78.5 354.9 l3.1 3.1 M78.5 358.0 l3.1 -3.1 M79.0 354.7 l3.1 3.1 M79.0 357.8 l3.1 -3.1 M79.5 354.9 l3.1 3.1 M79.5 358.0 l3.1 -3.1 M79.9 354.6 l3.1 3.1 M79.9 357.7 l3.1 -3.1 M80.4 354.4 l3.1 3.1 M80.4 357.5 l3.1 -3.1 M80.8 354.7 l3.1 3.1 M80.8 357.8 l3.1 -3.1 M81.0 354.7 l3.1 3.1 M81.0 357.8 l3.1 -3.1 M81.6 355.0 l3.1 3.1 M81.6 358.1 l3.1 -3.1 M81.9 355.0 l3.1 3.1 M81.9 358.1 l3.1 -3.1 M82.4 354.6 l3.1 3.1 M82.4 357.7 l3.1 -3.1 M82.9 354.3 l3.1 3.1 M82.9 357.4 l3.1 -3.1 M83.3 354.7 l3.1 3.1 M83.3 357.8 l3.1 -3.1 M83.6 354.9 l3.1 3.1 M83.6 358.0 l3.1 -3.1 M84.0 354.6 l3.1 3.1 M84.0 357.7 l3.1 -3.1 M84.5 354.8 l3.1 3.1 M84.5 357.9 l3.1 -3.1 M84.8 354.6 l3.1 3.1 M84.8 357.7 l3.1 -3.1 M85.3 354.7 l3.1 3.1 M85.3 357.8 l3.1 -3.1 M85.9 354.5 l3.1 3.1 M85.9 357.6 l3.1 -3.1 M86.3 354.6 l3.1 3.1 M86.3 357.7 l3.1 -3.1 M86.5 354.2 l3.1 3.1 M86.5 357.3 l3.1 -3.1 M86.9 355.1 l3.1 3.1 M86.9 358.2 l3.1 -3.1 M87.3 354.3 l3.1 3.1 M87.3 357.4 l3.1 -3.1 M87.7 353.0 l3.1 3.1 M87.7 356.1 l3.1 -3.1 M88.1 353.0 l3.1 3.1 M88.1 356.1 l3.1 -3.1 M88.6 352.9 l3.1 3.1 M88.6 356.0 l3.1 -3.1 M88.8 352.4 l3.1 3.1 M88.8 355.5 l3.1 -3.1 M89.5 351.6 l3.1 3.1 M89.5 354.7 l3.1 -3.1 M89.7 351.1 l3.1 3.1 M89.7 354.2 l3.1 -3.1 M90.1 350.8 l3.1 3.1 M90.1 353.9 l3.1 -3.1 M90.8 351.5 l3.1 3.1 M90.8 354.6 l3.1 -3.1 M91.1 351.8 l3.1 3.1 M91.1 354.9 l3.1 -3.1 M91.6 351.5 l3.1 3.1 M91.6 354.6 l3.1 -3.1 M91.9 351.5 l3.1 3.1 M91.9 354.6 l3.1 -3.1 M92.4 351.4 l3.1 3.1 M92.4 354.5 l3.1 -3.1 M92.8 350.7 l3.1 3.1 M92.8 353.8 l3.1 -3.1 M93.2 351.1 l3.1 3.1 M93.2 354.2 l3.1 -3.1 M93.7 350.4 l3.1 3.1 M93.7 353.5 l3.1 -3.1 M93.9 350.3 l3.1 3.1 M93.9 353.4 l3.1 -3.1 M94.5 351.8 l3.1 3.1 M94.5 354.9 l3.1 -3.1 M94.9 351.0 l3.1 3.1 M94.9 354.1 l3.1 -3.1 M95.4 352.0 l3.1 3.1 M95.4 355.1 l3.1 -3.1 M95.7 351.3 l3.1 3.1 M95.7 354.4 l3.1 -3.1 M96.1 351.8 l3.1 3.1 M96.1 354.9 l3.1 -3.1 M96.5 352.1 l3.1 3.1 M96.5 355.2 l3.1 -3.1 M97.0 353.2 l3.1 3.1 M97.0 356.3 l3.1 -3.1 M97.2 352.6 l3.1 3.1 M97.2 355.7 l3.1 -3.1 M97.7 351.9 l3.1 3.1 M97.7 355.0 l3.1 -3.1 M98.3 352.8 l3.1 3.1 M98.3 355.9 l3.1 -3.1 M98.8 352.6 l3.1 3.1 M98.8 355.7 l3.1 -3.1 M98.9 352.5 l3.1 3.1 M98.9 355.6 l3.1 -3.1 M99.5 353.6 l3.1 3.1 M99.5 356.7 l3.1 -3.1 M100.0 352.8 l3.1 3.1 M100.0 355.9 l3.1 -3.1 M100.3 352.2 l3.1 3.1 M100.3 355.3 l3.1 -3.1 M100.8 352.4 l3.1 3.1 M100.8 355.5 l3.1 -3.1 M101.0 352.1 l3.1 3.1 M101.0 355.2 l3.1 -3.1 M101.4 353.1 l3.1 3.1 M101.4 356.2 l3.1 -3.1 M101.9 352.8 l3.1 3.1 M101.9 355.9 l3.1 -3.1 M102.3 351.7 l3.1 3.1 M102.3 354.8 l3.1 -3.1 M102.3 349.1 l3.1 3.1 M102.3 352.2 l3.1 -3.1 M102.8 349.3 l3.1 3.1 M102.8 352.4 l3.1 -3.1 M103.1 348.7 l3.1 3.1 M103.1 351.8 l3.1 -3.1 M103.2 351.0 l3.1 3.1 M103.2 354.1 l3.1 -3.1 M103.7 351.3 l3.1 3.1 M103.7 354.4 l3.1 -3.1 M104.0 348.2 l3.1 3.1 M104.0 351.3 l3.1 -3.1 M104.3 350.7 l3.1 3.1 M104.3 353.8 l3.1 -3.1 M104.5 351.6 l3.1 3.1 M104.5 354.7 l3.1 -3.1 M104.8 351.7 l3.1 3.1 M104.8 354.8 l3.1 -3.1 M105.2 347.9 l3.1 3.1 M105.2 351.0 l3.1 -3.1 M105.3 350.4 l3.1 3.1 M105.3 353.5 l3.1 -3.1 M105.8 348.1 l3.1 3.1 M105.8 351.2 l3.1 -3.1 M106.0 350.7 l3.1 3.1 M106.0 353.8 l3.1 -3.1 M106.2 351.2 l3.1 3.1 M106.2 354.3 l3.1 -3.1 M106.6 348.0 l3.1 3.1 M106.6 351.1 l3.1 -3.1 M106.9 350.0 l3.1 3.1 M106.9 353.1 l3.1 -3.1 M107.2 350.4 l3.1 3.1 M107.2 353.5 l3.1 -3.1 M107.4 350.9 l3.1 3.1 M107.4 354.0 l3.1 -3.1 M107.8 350.3 l3.1 3.1 M107.8 353.4 l3.1 -3.1 M108.2 349.3 l3.1 3.1 M108.2 352.4 l3.1 -3.1 M108.4 350.8 l3.1 3.1 M108.4 353.9 l3.1 -3.1 M108.9 350.8 l3.1 3.1 M108.9 353.9 l3.1 -3.1 M109.1 348.9 l3.1 3.1 M109.1 352.0 l3.1 -3.1 M109.2 351.6 l3.1 3.1 M109.2 354.7 l3.1 -3.1 M109.7 351.0 l3.1 3.1 M109.7 354.1 l3.1 -3.1 M109.9 350.2 l3.1 3.1 M109.9 353.3 l3.1 -3.1 M110.4 351.1 l3.1 3.1 M110.4 354.2 l3.1 -3.1 M110.6 349.0 l3.1 3.1 M110.6 352.1 l3.1 -3.1 M110.8 351.4 l3.1 3.1 M110.8 354.5 l3.1 -3.1 M111.1 350.6 l3.1 3.1 M111.1 353.7 l3.1 -3.1 M111.5 351.4 l3.1 3.1 M111.5 354.5 l3.1 -3.1 M111.8 349.0 l3.1 3.1 M111.8 352.1 l3.1 -3.1 M111.9 348.9 l3.1 3.1 M111.9 352.0 l3.1 -3.1 M112.3 350.3 l3.1 3.1 M112.3 353.4 l3.1 -3.1 M112.7 351.5 l3.1 3.1 M112.7 354.6 l3.1 -3.1 M112.8 351.3 l3.1 3.1 M112.8 354.4 l3.1 -3.1 M113.3 351.4 l3.1 3.1 M113.3 354.5 l3.1 -3.1 M113.6 349.1 l3.1 3.1 M113.6 352.2 l3.1 -3.1 M114.0 351.2 l3.1 3.1 M114.0 354.3 l3.1 -3.1 M114.2 351.7 l3.1 3.1 M114.2 354.8 l3.1 -3.1 M114.4 348.4 l3.1 3.1 M114.4 351.5 l3.1 -3.1 M114.8 351.2 l3.1 3.1 M114.8 354.3 l3.1 -3.1 M115.0 351.0 l3.1 3.1 M115.0 354.1 l3.1 -3.1 M115.5 348.8 l3.1 3.1 M115.5 351.9 l3.1 -3.1 M115.7 350.6 l3.1 3.1 M115.7 353.7 l3.1 -3.1 M115.9 348.6 l3.1 3.1 M115.9 351.7 l3.1 -3.1 M116.2 350.8 l3.1 3.1 M116.2 353.9 l3.1 -3.1 M116.6 349.5 l3.1 3.1 M116.6 352.6 l3.1 -3.1 M116.7 350.9 l3.1 3.1 M116.7 354.0 l3.1 -3.1 M117.2 348.5 l3.1 3.1 M117.2 351.6 l3.1 -3.1 M117.5 351.2 l3.1 3.1 M117.5 354.3 l3.1 -3.1 M117.9 349.6 l3.1 3.1 M117.9 352.7 l3.1 -3.1 M118.0 349.8 l3.1 3.1 M118.0 352.9 l3.1 -3.1 M118.3 348.1 l3.1 3.1 M118.3 351.2 l3.1 -3.1 M118.6 350.0 l3.1 3.1 M118.6 353.1 l3.1 -3.1 M118.9 349.4 l3.1 3.1 M118.9 352.5 l3.1 -3.1 M119.2 349.0 l3.1 3.1 M119.2 352.1 l3.1 -3.1 M119.4 347.0 l3.1 3.1 M119.4 350.1 l3.1 -3.1 M120.0 348.2 l3.1 3.1 M120.0 351.3 l3.1 -3.1 M120.0 349.1 l3.1 3.1 M120.0 352.2 l3.1 -3.1 M120.5 347.1 l3.1 3.1 M120.5 350.2 l3.1 -3.1 M120.8 347.4 l3.1 3.1 M120.8 350.5 l3.1 -3.1 M121.1 345.6 l3.1 3.1 M121.1 348.7 l3.1 -3.1 M121.2 349.1 l3.1 3.1 M121.2 352.2 l3.1 -3.1 M121.8 346.6 l3.1 3.1 M121.8 349.7 l3.1 -3.1 M122.0 345.3 l3.1 3.1 M122.0 348.4 l3.1 -3.1 M122.3 345.5 l3.1 3.1 M122.3 348.6 l3.1 -3.1 M122.6 346.0 l3.1 3.1 M122.6 349.1 l3.1 -3.1 M123.1 344.9 l3.1 3.1 M123.1 348.0 l3.1 -3.1 M123.1 342.5 l3.1 3.1 M123.1 345.6 l3.1 -3.1 M123.5 340.8 l3.1 3.1 M123.5 343.9 l3.1 -3.1 M123.9 339.0 l3.1 3.1 M123.9 342.1 l3.1 -3.1 M124.6 338.4 l3.1 3.1 M124.6 341.5 l3.1 -3.1 M125.0 338.0 l3.1 3.1 M125.0 341.1 l3.1 -3.1 M125.5 335.7 l3.1 3.1 M125.5 338.8 l3.1 -3.1 M125.8 335.9 l3.1 3.1 M125.8 339.0 l3.1 -3.1 M126.1 336.5 l3.1 3.1 M126.1 339.6 l3.1 -3.1 M126.6 335.2 l3.1 3.1 M126.6 338.3 l3.1 -3.1 M127.1 335.4 l3.1 3.1 M127.1 338.5 l3.1 -3.1 M127.5 333.8 l3.1 3.1 M127.5 336.9 l3.1 -3.1 M127.9 332.8 l3.1 3.1 M127.9 335.9 l3.1 -3.1 M128.5 334.0 l3.1 3.1 M128.5 337.1 l3.1 -3.1 M128.7 331.6 l3.1 3.1 M128.7 334.7 l3.1 -3.1 M129.1 331.8 l3.1 3.1 M129.1 334.9 l3.1 -3.1 M129.7 332.5 l3.1 3.1 M129.7 335.6 l3.1 -3.1 M130.1 330.4 l3.1 3.1 M130.1 333.5 l3.1 -3.1 M130.5 331.1 l3.1 3.1 M130.5 334.2 l3.1 -3.1 M130.9 331.0 l3.1 3.1 M130.9 334.1 l3.1 -3.1 M131.1 328.7 l3.1 3.1 M131.1 331.8 l3.1 -3.1 M131.8 329.6 l3.1 3.1 M131.8 332.7 l3.1 -3.1 M132.2 327.7 l3.1 3.1 M132.2 330.8 l3.1 -3.1 M132.6 326.5 l3.1 3.1 M132.6 329.6 l3.1 -3.1 M132.7 324.8 l3.1 3.1 M132.7 327.9 l3.1 -3.1 M133.1 320.8 l3.1 3.1 M133.1 323.9 l3.1 -3.1 M133.4 316.6 l3.1 3.1 M133.4 319.7 l3.1 -3.1 M133.3 313.3 l3.1 3.1 M133.3 316.4 l3.1 -3.1 M133.7 310.1 l3.1 3.1 M133.7 313.2 l3.1 -3.1 M133.8 307.5 l3.1 3.1 M133.8 310.6 l3.1 -3.1 M133.6 304.8 l3.1 3.1 M133.6 307.9 l3.1 -3.1 M133.9 301.5 l3.1 3.1 M133.9 304.6 l3.1 -3.1 M134.3 298.4 l3.1 3.1 M134.3 301.5 l3.1 -3.1 M134.1 294.8 l3.1 3.1 M134.1 297.9 l3.1 -3.1 M134.3 291.9 l3.1 3.1 M134.3 295.0 l3.1 -3.1 M134.8 288.3 l3.1 3.1 M134.8 291.4 l3.1 -3.1 M134.8 284.8 l3.1 3.1 M134.8 287.9 l3.1 -3.1 M135.2 281.6 l3.1 3.1 M135.2 284.7 l3.1 -3.1 M135.2 276.2 l3.1 3.1 M135.2 279.3 l3.1 -3.1 M135.1 272.8 l3.1 3.1 M135.1 275.9 l3.1 -3.1 M135.6 272.6 l3.1 3.1 M135.6 275.8 l3.1 -3.1 M135.6 260.9 l3.1 3.1 M135.6 264.1 l3.1 -3.1 M135.9 249.2 l3.1 3.1 M135.9 252.4 l3.1 -3.1 M136.5 234.2 l3.1 3.1 M136.5 237.4 l3.1 -3.1 M137.3 216.8 l3.1 3.1 M137.3 219.9 l3.1 -3.1 M137.3 218.0 l3.1 3.1 M137.3 221.2 l3.1 -3.1 M137.9 223.9 l3.1 3.1 M137.9 227.1 l3.1 -3.1 M137.8 226.8 l3.1 3.1 M137.8 230.0 l3.1 -3.1 M138.1 230.5 l3.1 3.1 M138.1 233.6 l3.1 -3.1 M137.2 230.8 l3.1 3.1 M137.2 233.9 l3.1 -3.1 M137.4 230.4 l3.1 3.1 M137.4 233.5 l3.1 -3.1 M137.2 230.3 l3.1 3.1 M137.2 233.4 l3.1 -3.1 M138.3 230.4 l3.1 3.1 M138.3 233.5 l3.1 -3.1 M137.2 230.6 l3.1 3.1 M137.2 233.7 l3.1 -3.1 M137.5 230.9 l3.1 3.1 M137.5 234.0 l3.1 -3.1 M137.1 231.0 l3.1 3.1 M137.1 234.1 l3.1 -3.1 M137.1 230.9 l3.1 3.1 M137.1 234.0 l3.1 -3.1 M138.0 230.4 l3.1 3.1 M138.0 233.5 l3.1 -3.1 M137.7 230.5 l3.1 3.1 M137.7 233.6 l3.1 -3.1 M137.4 230.5 l3.1 3.1 M137.4 233.6 l3.1 -3.1 M137.6 231.1 l3.1 3.1 M137.6 234.2 l3.1 -3.1 M138.6 231.1 l3.1 3.1 M138.6 234.2 l3.1 -3.1 M137.1 230.6 l3.1 3.1 M137.1 233.7 l3.1 -3.1 M138.4 230.4 l3.1 3.1 M138.4 233.5 l3.1 -3.1 M138.1 230.6 l3.1 3.1 M138.1 233.7 l3.1 -3.1 M138.5 230.4 l3.1 3.1 M138.5 233.5 l3.1 -3.1 M138.3 230.7 l3.1 3.1 M138.3 233.8 l3.1 -3.1 M137.2 230.5 l3.1 3.1 M137.2 233.6 l3.1 -3.1 M138.3 230.9 l3.1 3.1 M138.3 234.0 l3.1 -3.1 M137.3 230.9 l3.1 3.1 M137.3 234.0 l3.1 -3.1 M138.4 230.7 l3.1 3.1 M138.4 233.8 l3.1 -3.1 M137.9 230.7 l3.1 3.1 M137.9 233.8 l3.1 -3.1 M137.3 231.2 l3.1 3.1 M137.3 234.3 l3.1 -3.1 M138.1 230.8 l3.1 3.1 M138.1 233.9 l3.1 -3.1 M137.1 230.7 l3.1 3.1 M137.1 233.8 l3.1 -3.1 M138.0 231.1 l3.1 3.1 M138.0 234.2 l3.1 -3.1 M137.4 230.8 l3.1 3.1 M137.4 233.9 l3.1 -3.1 M138.0 231.3 l3.1 3.1 M138.0 234.4 l3.1 -3.1 M138.3 231.2 l3.1 3.1 M138.3 234.3 l3.1 -3.1 M137.4 232.4 l3.1 3.1 M137.4 235.5 l3.1 -3.1 M138.4 234.3 l3.1 3.1 M138.4 237.4 l3.1 -3.1 M138.6 234.9 l3.1 3.1 M138.6 238.0 l3.1 -3.1 M139.0 236.7 l3.1 3.1 M139.0 239.8 l3.1 -3.1 M139.4 238.7 l3.1 3.1 M139.4 241.8 l3.1 -3.1 M139.1 239.7 l3.1 3.1 M139.1 242.8 l3.1 -3.1 M140.1 241.6 l3.1 3.1 M140.1 244.7 l3.1 -3.1 M140.3 243.1 l3.1 3.1 M140.3 246.2 l3.1 -3.1 M139.5 245.1 l3.1 3.1 M139.5 248.2 l3.1 -3.1 M140.1 246.2 l3.1 3.1 M140.1 249.3 l3.1 -3.1 M140.4 248.1 l3.1 3.1 M140.4 251.2 l3.1 -3.1 M140.1 249.7 l3.1 3.1 M140.1 252.8 l3.1 -3.1 M141.1 251.3 l3.1 3.1 M141.1 254.4 l3.1 -3.1 M140.9 253.0 l3.1 3.1 M140.9 256.1 l3.1 -3.1 M142.3 254.7 l3.1 3.1 M142.3 257.8 l3.1 -3.1 M141.8 256.2 l3.1 3.1 M141.8 259.3 l3.1 -3.1 M142.2 257.8 l3.1 3.1 M142.2 260.9 l3.1 -3.1 M142.0 259.5 l3.1 3.1 M142.0 262.6 l3.1 -3.1 M143.7 261.0 l3.1 3.1 M143.7 264.1 l3.1 -3.1 M143.3 262.6 l3.1 3.1 M143.3 265.7 l3.1 -3.1 M143.6 263.8 l3.1 3.1 M143.6 266.9 l3.1 -3.1 M144.6 265.5 l3.1 3.1 M144.6 268.6 l3.1 -3.1 M143.6 267.0 l3.1 3.1 M143.6 270.1 l3.1 -3.1 M144.0 269.2 l3.1 3.1 M144.0 272.3 l3.1 -3.1 M143.9 270.2 l3.1 3.1 M143.9 273.3 l3.1 -3.1 M145.2 271.6 l3.1 3.1 M145.2 274.7 l3.1 -3.1 M144.5 273.6 l3.1 3.1 M144.5 276.7 l3.1 -3.1 M145.7 275.1 l3.1 3.1 M145.7 278.2 l3.1 -3.1 M146.3 276.4 l3.1 3.1 M146.3 279.5 l3.1 -3.1 M146.9 278.4 l3.1 3.1 M146.9 281.5 l3.1 -3.1 M145.9 279.7 l3.1 3.1 M145.9 282.8 l3.1 -3.1 M146.9 281.6 l3.1 3.1 M146.9 284.7 l3.1 -3.1 M146.9 282.9 l3.1 3.1 M146.9 286.0 l3.1 -3.1 M147.4 284.5 l3.1 3.1 M147.4 287.6 l3.1 -3.1 M148.0 286.7 l3.1 3.1 M148.0 289.8 l3.1 -3.1 M147.6 288.1 l3.1 3.1 M147.6 291.2 l3.1 -3.1 M148.6 288.4 l3.1 3.1 M148.6 291.5 l3.1 -3.1 M149.0 290.2 l3.1 3.1 M149.0 293.3 l3.1 -3.1 M149.3 289.5 l3.1 3.1 M149.3 292.6 l3.1 -3.1 M149.8 290.0 l3.1 3.1 M149.8 293.1 l3.1 -3.1 M150.1 291.1 l3.1 3.1 M150.1 294.2 l3.1 -3.1 M150.7 290.2 l3.1 3.1 M150.7 293.3 l3.1 -3.1 M150.9 290.5 l3.1 3.1 M150.9 293.6 l3.1 -3.1 M151.4 292.8 l3.1 3.1 M151.4 295.9 l3.1 -3.1 M151.9 294.1 l3.1 3.1 M151.9 297.2 l3.1 -3.1 M152.4 295.4 l3.1 3.1 M152.4 298.5 l3.1 -3.1 M152.5 296.2 l3.1 3.1 M152.5 299.3 l3.1 -3.1 M153.1 296.8 l3.1 3.1 M153.1 299.9 l3.1 -3.1 M153.0 300.8 l3.1 3.1 M153.0 303.9 l3.1 -3.1 M153.5 303.6 l3.1 3.1 M153.5 306.7 l3.1 -3.1 M153.7 306.2 l3.1 3.1 M153.7 309.3 l3.1 -3.1 M154.0 309.4 l3.1 3.1 M154.0 312.5 l3.1 -3.1 M154.0 312.0 l3.1 3.1 M154.0 315.1 l3.1 -3.1 M155.0 315.4 l3.1 3.1 M155.0 318.5 l3.1 -3.1 M155.3 318.1 l3.1 3.1 M155.3 321.2 l3.1 -3.1 M155.6 321.2 l3.1 3.1 M155.6 324.3 l3.1 -3.1 M156.0 323.4 l3.1 3.1 M156.0 326.5 l3.1 -3.1 M156.2 326.5 l3.1 3.1 M156.2 329.6 l3.1 -3.1 M156.6 329.3 l3.1 3.1 M156.6 332.4 l3.1 -3.1 M157.0 332.3 l3.1 3.1 M157.0 335.4 l3.1 -3.1 M157.4 334.1 l3.1 3.1 M157.4 337.2 l3.1 -3.1 M157.8 336.7 l3.1 3.1 M157.8 339.8 l3.1 -3.1 M158.3 338.6 l3.1 3.1 M158.3 341.7 l3.1 -3.1 M158.6 340.3 l3.1 3.1 M158.6 343.4 l3.1 -3.1 M158.9 341.2 l3.1 3.1 M158.9 344.3 l3.1 -3.1 M159.6 342.1 l3.1 3.1 M159.6 345.2 l3.1 -3.1 M159.8 342.9 l3.1 3.1 M159.8 346.0 l3.1 -3.1 M160.3 343.3 l3.1 3.1 M160.3 346.4 l3.1 -3.1 M160.6 344.3 l3.1 3.1 M160.6 347.4 l3.1 -3.1 M161.1 345.8 l3.1 3.1 M161.1 348.9 l3.1 -3.1 M161.5 346.4 l3.1 3.1 M161.5 349.5 l3.1 -3.1 M161.8 347.6 l3.1 3.1 M161.8 350.7 l3.1 -3.1 M162.5 348.4 l3.1 3.1 M162.5 351.5 l3.1 -3.1 M162.8 349.0 l3.1 3.1 M162.8 352.1 l3.1 -3.1 M163.1 349.8 l3.1 3.1 M163.1 352.9 l3.1 -3.1 M163.6 350.1 l3.1 3.1 M163.6 353.2 l3.1 -3.1 M164.1 350.5 l3.1 3.1 M164.1 353.6 l3.1 -3.1 M164.4 350.7 l3.1 3.1 M164.4 353.8 l3.1 -3.1 M164.8 351.7 l3.1 3.1 M164.8 354.8 l3.1 -3.1 M165.3 352.2 l3.1 3.1 M165.3 355.3 l3.1 -3.1 M165.6 352.1 l3.1 3.1 M165.6 355.2 l3.1 -3.1 M166.3 352.2 l3.1 3.1 M166.3 355.3 l3.1 -3.1 M166.6 352.9 l3.1 3.1 M166.6 356.0 l3.1 -3.1 M166.9 353.9 l3.1 3.1 M166.9 357.0 l3.1 -3.1 M167.4 353.5 l3.1 3.1 M167.4 356.6 l3.1 -3.1 M167.7 352.1 l3.1 3.1 M167.7 355.2 l3.1 -3.1 M168.4 352.8 l3.1 3.1 M168.4 355.9 l3.1 -3.1 M168.6 352.7 l3.1 3.1 M168.6 355.8 l3.1 -3.1 M169.1 353.4 l3.1 3.1 M169.1 356.5 l3.1 -3.1 M169.4 352.4 l3.1 3.1 M169.4 355.5 l3.1 -3.1 M170.1 353.4 l3.1 3.1 M170.1 356.5 l3.1 -3.1 M170.3 352.6 l3.1 3.1 M170.3 355.7 l3.1 -3.1 M170.7 353.3 l3.1 3.1 M170.7 356.4 l3.1 -3.1 M171.2 353.6 l3.1 3.1 M171.2 356.7 l3.1 -3.1 M171.7 353.0 l3.1 3.1 M171.7 356.1 l3.1 -3.1 M172.1 353.4 l3.1 3.1 M172.1 356.5 l3.1 -3.1 M172.5 352.9 l3.1 3.1 M172.5 356.0 l3.1 -3.1 M173.0 353.4 l3.1 3.1 M173.0 356.5 l3.1 -3.1 M173.4 352.2 l3.1 3.1 M173.4 355.3 l3.1 -3.1 M173.8 352.0 l3.1 3.1 M173.8 355.1 l3.1 -3.1 M174.2 352.4 l3.1 3.1 M174.2 355.5 l3.1 -3.1 M174.6 351.6 l3.1 3.1 M174.6 354.7 l3.1 -3.1 M175.0 349.0 l3.1 3.1 M175.0 352.1 l3.1 -3.1 M175.5 348.3 l3.1 3.1 M175.5 351.4 l3.1 -3.1 M175.9 345.6 l3.1 3.1 M175.9 348.7 l3.1 -3.1 M176.2 343.7 l3.1 3.1 M176.2 346.8 l3.1 -3.1 M176.8 341.6 l3.1 3.1 M176.8 344.7 l3.1 -3.1 M177.0 339.7 l3.1 3.1 M177.0 342.8 l3.1 -3.1 M177.4 337.2 l3.1 3.1 M177.4 340.3 l3.1 -3.1 M178.1 335.3 l3.1 3.1 M178.1 338.4 l3.1 -3.1 M178.3 332.6 l3.1 3.1 M178.3 335.7 l3.1 -3.1 M178.7 330.2 l3.1 3.1 M178.7 333.3 l3.1 -3.1 M179.1 329.6 l3.1 3.1 M179.1 332.7 l3.1 -3.1 M179.6 327.5 l3.1 3.1 M179.6 330.6 l3.1 -3.1 M180.2 326.8 l3.1 3.1 M180.2 329.9 l3.1 -3.1 M180.5 326.2 l3.1 3.1 M180.5 329.3 l3.1 -3.1 M180.7 323.9 l3.1 3.1 M180.7 327.0 l3.1 -3.1 M180.9 327.6 l3.1 3.1 M180.9 330.7 l3.1 -3.1 M181.2 321.2 l3.1 3.1 M181.2 324.3 l3.1 -3.1 M181.8 323.2 l3.1 3.1 M181.8 326.3 l3.1 -3.1 M182.3 324.2 l3.1 3.1 M182.3 327.3 l3.1 -3.1 M182.6 325.3 l3.1 3.1 M182.6 328.4 l3.1 -3.1 M183.1 322.0 l3.1 3.1 M183.1 325.1 l3.1 -3.1 M183.5 320.9 l3.1 3.1 M183.5 324.0 l3.1 -3.1 M183.8 321.9 l3.1 3.1 M183.8 325.0 l3.1 -3.1 M184.3 323.9 l3.1 3.1 M184.3 327.0 l3.1 -3.1 M184.8 321.1 l3.1 3.1 M184.8 324.2 l3.1 -3.1 M185.0 320.0 l3.1 3.1 M185.0 323.1 l3.1 -3.1 M185.5 321.2 l3.1 3.1 M185.5 324.3 l3.1 -3.1 M186.0 323.2 l3.1 3.1 M186.0 326.3 l3.1 -3.1 M186.5 320.6 l3.1 3.1 M186.5 323.7 l3.1 -3.1 M186.8 321.4 l3.1 3.1 M186.8 324.5 l3.1 -3.1 M187.4 319.5 l3.1 3.1 M187.4 322.6 l3.1 -3.1 M187.7 322.5 l3.1 3.1 M187.7 325.6 l3.1 -3.1 M188.0 319.2 l3.1 3.1 M188.0 322.3 l3.1 -3.1 M188.7 322.4 l3.1 3.1 M188.7 325.5 l3.1 -3.1 M188.9 317.8 l3.1 3.1 M188.9 320.9 l3.1 -3.1 M189.5 321.4 l3.1 3.1 M189.5 324.5 l3.1 -3.1 M189.9 323.3 l3.1 3.1 M189.9 326.4 l3.1 -3.1 M190.3 319.6 l3.1 3.1 M190.3 322.7 l3.1 -3.1 M190.5 318.7 l3.1 3.1 M190.5 321.8 l3.1 -3.1 M191.0 320.1 l3.1 3.1 M191.0 323.2 l3.1 -3.1 M191.4 318.0 l3.1 3.1 M191.4 321.1 l3.1 -3.1 M191.9 320.7 l3.1 3.1 M191.9 323.8 l3.1 -3.1 M192.2 323.3 l3.1 3.1 M192.2 326.4 l3.1 -3.1 M192.7 317.2 l3.1 3.1 M192.7 320.3 l3.1 -3.1 M193.1 322.0 l3.1 3.1 M193.1 325.1 l3.1 -3.1 M193.5 321.4 l3.1 3.1 M193.5 324.5 l3.1 -3.1 M193.8 318.9 l3.1 3.1 M193.8 322.0 l3.1 -3.1 M194.5 320.7 l3.1 3.1 M194.5 323.8 l3.1 -3.1 M194.9 318.2 l3.1 3.1 M194.9 321.3 l3.1 -3.1 M195.2 320.5 l3.1 3.1 M195.2 323.6 l3.1 -3.1 M195.6 321.1 l3.1 3.1 M195.6 324.2 l3.1 -3.1 M196.1 323.4 l3.1 3.1 M196.1 326.5 l3.1 -3.1 M196.5 319.6 l3.1 3.1 M196.5 322.7 l3.1 -3.1 M196.8 318.0 l3.1 3.1 M196.8 321.1 l3.1 -3.1 M197.4 317.7 l3.1 3.1 M197.4 320.8 l3.1 -3.1 M197.6 318.1 l3.1 3.1 M197.6 321.2 l3.1 -3.1 M198.2 322.3 l3.1 3.1 M198.2 325.4 l3.1 -3.1 M198.6 321.9 l3.1 3.1 M198.6 325.0 l3.1 -3.1 M198.9 316.6 l3.1 3.1 M198.9 319.7 l3.1 -3.1 M199.5 318.4 l3.1 3.1 M199.5 321.5 l3.1 -3.1 M199.9 318.4 l3.1 3.1 M199.9 321.5 l3.1 -3.1 M200.2 317.6 l3.1 3.1 M200.2 320.7 l3.1 -3.1 M200.6 321.4 l3.1 3.1 M200.6 324.5 l3.1 -3.1 M201.1 317.7 l3.1 3.1 M201.1 320.8 l3.1 -3.1 M201.5 317.7 l3.1 3.1 M201.5 320.8 l3.1 -3.1 M201.8 320.6 l3.1 3.1 M201.8 323.7 l3.1 -3.1 M202.4 320.7 l3.1 3.1 M202.4 323.8 l3.1 -3.1 M202.8 318.2 l3.1 3.1 M202.8 321.3 l3.1 -3.1 M203.1 314.2 l3.1 3.1 M203.1 317.3 l3.1 -3.1 M203.8 319.2 l3.1 3.1 M203.8 322.3 l3.1 -3.1 M204.0 319.4 l3.1 3.1 M204.0 322.5 l3.1 -3.1 M204.6 315.6 l3.1 3.1 M204.6 318.7 l3.1 -3.1 M204.9 319.7 l3.1 3.1 M204.9 322.8 l3.1 -3.1 M205.3 319.6 l3.1 3.1 M205.3 322.7 l3.1 -3.1 M205.7 316.0 l3.1 3.1 M205.7 319.1 l3.1 -3.1 M206.2 314.8 l3.1 3.1 M206.2 317.9 l3.1 -3.1 M206.5 319.0 l3.1 3.1 M206.5 322.1 l3.1 -3.1 M207.0 318.4 l3.1 3.1 M207.0 321.5 l3.1 -3.1 M207.3 314.4 l3.1 3.1 M207.3 317.5 l3.1 -3.1 M207.8 314.5 l3.1 3.1 M207.8 317.6 l3.1 -3.1 M208.4 315.3 l3.1 3.1 M208.4 318.4 l3.1 -3.1 M208.7 314.3 l3.1 3.1 M208.7 317.4 l3.1 -3.1 M209.1 316.1 l3.1 3.1 M209.1 319.2 l3.1 -3.1 M209.5 314.2 l3.1 3.1 M209.5 317.3 l3.1 -3.1 M209.8 319.2 l3.1 3.1 M209.8 322.3 l3.1 -3.1 M210.3 315.5 l3.1 3.1 M210.3 318.6 l3.1 -3.1 M210.7 315.9 l3.1 3.1 M210.7 319.0 l3.1 -3.1 M211.1 314.4 l3.1 3.1 M211.1 317.5 l3.1 -3.1 M211.7 316.7 l3.1 3.1 M211.7 319.8 l3.1 -3.1 M211.9 319.6 l3.1 3.1 M211.9 322.7 l3.1 -3.1 M212.3 317.5 l3.1 3.1 M212.3 320.6 l3.1 -3.1 M213.0 317.2 l3.1 3.1 M213.0 320.3 l3.1 -3.1 M213.3 322.4 l3.1 3.1 M213.3 325.5 l3.1 -3.1 M213.8 319.0 l3.1 3.1 M213.8 322.1 l3.1 -3.1 M214.1 323.7 l3.1 3.1 M214.1 326.8 l3.1 -3.1 M214.5 326.3 l3.1 3.1 M214.5 329.4 l3.1 -3.1 M214.9 327.4 l3.1 3.1 M214.9 330.5 l3.1 -3.1 M215.4 323.2 l3.1 3.1 M215.4 326.3 l3.1 -3.1 M215.8 323.1 l3.1 3.1 M215.8 326.2 l3.1 -3.1 M216.3 324.4 l3.1 3.1 M216.3 327.5 l3.1 -3.1 M216.8 326.7 l3.1 3.1 M216.8 329.8 l3.1 -3.1 M217.0 324.5 l3.1 3.1 M217.0 327.6 l3.1 -3.1 M217.5 324.3 l3.1 3.1 M217.5 327.4 l3.1 -3.1 M218.0 323.7 l3.1 3.1 M218.0 326.8 l3.1 -3.1 M218.3 326.4 l3.1 3.1 M218.3 329.5 l3.1 -3.1 M218.7 327.9 l3.1 3.1 M218.7 331.0 l3.1 -3.1 M219.1 327.2 l3.1 3.1 M219.1 330.3 l3.1 -3.1 M219.6 324.9 l3.1 3.1 M219.6 328.0 l3.1 -3.1 M220.0 323.5 l3.1 3.1 M220.0 326.6 l3.1 -3.1 M220.3 328.4 l3.1 3.1 M220.3 331.5 l3.1 -3.1 M220.8 327.2 l3.1 3.1 M220.8 330.3 l3.1 -3.1 M221.2 326.5 l3.1 3.1 M221.2 329.6 l3.1 -3.1 M221.6 325.9 l3.1 3.1 M221.6 329.0 l3.1 -3.1 M222.0 322.7 l3.1 3.1 M222.0 325.8 l3.1 -3.1 M222.5 323.4 l3.1 3.1 M222.5 326.5 l3.1 -3.1 M222.8 326.1 l3.1 3.1 M222.8 329.2 l3.1 -3.1 M223.3 323.7 l3.1 3.1 M223.3 326.8 l3.1 -3.1 M223.9 325.9 l3.1 3.1 M223.9 329.0 l3.1 -3.1 M224.3 326.4 l3.1 3.1 M224.3 329.5 l3.1 -3.1 M224.5 322.5 l3.1 3.1 M224.5 325.6 l3.1 -3.1 M224.9 325.0 l3.1 3.1 M224.9 328.1 l3.1 -3.1 M225.5 322.8 l3.1 3.1 M225.5 325.9 l3.1 -3.1 M225.9 324.6 l3.1 3.1 M225.9 327.7 l3.1 -3.1 M226.4 321.9 l3.1 3.1 M226.4 325.0 l3.1 -3.1 M226.8 322.5 l3.1 3.1 M226.8 325.6 l3.1 -3.1 M227.2 321.3 l3.1 3.1 M227.2 324.4 l3.1 -3.1 M227.5 326.0 l3.1 3.1 M227.5 329.1 l3.1 -3.1 M228.1 324.6 l3.1 3.1 M228.1 327.7 l3.1 -3.1 M228.3 320.3 l3.1 3.1 M228.3 323.4 l3.1 -3.1 M228.7 321.3 l3.1 3.1 M228.7 324.4 l3.1 -3.1 M229.2 322.4 l3.1 3.1 M229.2 325.5 l3.1 -3.1 M229.5 321.9 l3.1 3.1 M229.5 325.0 l3.1 -3.1 M230.1 321.0 l3.1 3.1 M230.1 324.1 l3.1 -3.1 M230.6 323.5 l3.1 3.1 M230.6 326.6 l3.1 -3.1 M231.0 321.4 l3.1 3.1 M231.0 324.5 l3.1 -3.1 M231.3 324.1 l3.1 3.1 M231.3 327.2 l3.1 -3.1 M231.7 319.7 l3.1 3.1 M231.7 322.8 l3.1 -3.1 M232.3 324.6 l3.1 3.1 M232.3 327.7 l3.1 -3.1 M232.5 319.9 l3.1 3.1 M232.5 323.0 l3.1 -3.1 M231.3 297.5 l3.1 3.1 M231.3 300.6 l3.1 -3.1 M231.2 297.3 l3.1 3.1 M231.2 300.4 l3.1 -3.1 M231.2 297.7 l3.1 3.1 M231.2 300.8 l3.1 -3.1 M231.3 297.9 l3.1 3.1 M231.3 301.0 l3.1 -3.1 M231.3 297.2 l3.1 3.1 M231.3 300.3 l3.1 -3.1 M231.4 296.9 l3.1 3.1 M231.4 300.0 l3.1 -3.1 M231.8 300.8 l3.1 3.1 M231.8 303.9 l3.1 -3.1 M232.1 297.1 l3.1 3.1 M232.1 300.2 l3.1 -3.1 M232.7 300.1 l3.1 3.1 M232.7 303.2 l3.1 -3.1 M233.1 302.3 l3.1 3.1 M233.1 305.4 l3.1 -3.1 M233.5 303.6 l3.1 3.1 M233.5 306.7 l3.1 -3.1 M233.9 301.6 l3.1 3.1 M233.9 304.7 l3.1 -3.1 M234.1 303.7 l3.1 3.1 M234.1 306.8 l3.1 -3.1 M234.6 302.9 l3.1 3.1 M234.6 306.0 l3.1 -3.1 M235.2 300.9 l3.1 3.1 M235.2 304.0 l3.1 -3.1 M235.6 300.3 l3.1 3.1 M235.6 303.4 l3.1 -3.1 M236.0 305.1 l3.1 3.1 M236.0 308.2 l3.1 -3.1 M236.3 303.4 l3.1 3.1 M236.3 306.5 l3.1 -3.1 M236.9 304.0 l3.1 3.1 M236.9 307.1 l3.1 -3.1 M237.2 301.5 l3.1 3.1 M237.2 304.6 l3.1 -3.1 M237.5 302.1 l3.1 3.1 M237.5 305.2 l3.1 -3.1 M238.0 301.1 l3.1 3.1 M238.0 304.2 l3.1 -3.1 M238.4 300.6 l3.1 3.1 M238.4 303.7 l3.1 -3.1 M238.9 303.9 l3.1 3.1 M238.9 307.0 l3.1 -3.1 M239.2 301.1 l3.1 3.1 M239.2 304.2 l3.1 -3.1 M239.7 302.3 l3.1 3.1 M239.7 305.4 l3.1 -3.1 M240.3 301.6 l3.1 3.1 M240.3 304.7 l3.1 -3.1 M240.5 304.9 l3.1 3.1 M240.5 308.0 l3.1 -3.1 M240.9 302.7 l3.1 3.1 M240.9 305.8 l3.1 -3.1 M241.3 304.2 l3.1 3.1 M241.3 307.3 l3.1 -3.1 M241.8 303.8 l3.1 3.1 M241.8 306.9 l3.1 -3.1 M242.1 303.1 l3.1 3.1 M242.1 306.2 l3.1 -3.1 M242.7 301.8 l3.1 3.1 M242.7 304.9 l3.1 -3.1 M243.1 304.4 l3.1 3.1 M243.1 307.5 l3.1 -3.1 M243.4 301.1 l3.1 3.1 M243.4 304.2 l3.1 -3.1 M243.9 300.8 l3.1 3.1 M243.9 303.9 l3.1 -3.1 M244.2 301.5 l3.1 3.1 M244.2 304.6 l3.1 -3.1 M244.7 304.6 l3.1 3.1 M244.7 307.7 l3.1 -3.1 M245.2 301.4 l3.1 3.1 M245.2 304.5 l3.1 -3.1 M245.5 304.3 l3.1 3.1 M245.5 307.4 l3.1 -3.1 M246.0 302.9 l3.1 3.1 M246.0 306.0 l3.1 -3.1 M246.3 302.5 l3.1 3.1 M246.3 305.6 l3.1 -3.1 M247.0 307.8 l3.1 3.1 M247.0 310.9 l3.1 -3.1 M247.1 308.1 l3.1 3.1 M247.1 311.2 l3.1 -3.1 M247.8 308.1 l3.1 3.1 M247.8 311.2 l3.1 -3.1 M248.0 308.9 l3.1 3.1 M248.0 312.0 l3.1 -3.1 M248.5 308.1 l3.1 3.1 M248.5 311.2 l3.1 -3.1 M249.0 307.3 l3.1 3.1 M249.0 310.4 l3.1 -3.1 M249.5 311.8 l3.1 3.1 M249.5 314.9 l3.1 -3.1 M249.8 314.0 l3.1 3.1 M249.8 317.1 l3.1 -3.1 M250.3 310.0 l3.1 3.1 M250.3 313.1 l3.1 -3.1 M250.6 309.7 l3.1 3.1 M250.6 312.8 l3.1 -3.1 M250.9 314.1 l3.1 3.1 M250.9 317.2 l3.1 -3.1 M251.6 311.4 l3.1 3.1 M251.6 314.5 l3.1 -3.1 M251.8 314.0 l3.1 3.1 M251.8 317.1 l3.1 -3.1 M252.4 316.3 l3.1 3.1 M252.4 319.4 l3.1 -3.1 M252.6 316.1 l3.1 3.1 M252.6 319.2 l3.1 -3.1 M253.2 316.6 l3.1 3.1 M253.2 319.7 l3.1 -3.1 M253.5 313.8 l3.1 3.1 M253.5 316.9 l3.1 -3.1 M254.1 315.5 l3.1 3.1 M254.1 318.6 l3.1 -3.1 M254.4 317.7 l3.1 3.1 M254.4 320.8 l3.1 -3.1 M254.8 319.9 l3.1 3.1 M254.8 323.0 l3.1 -3.1 M255.2 315.2 l3.1 3.1 M255.2 318.3 l3.1 -3.1 M255.7 319.3 l3.1 3.1 M255.7 322.4 l3.1 -3.1 M256.2 320.1 l3.1 3.1 M256.2 323.2 l3.1 -3.1 M256.6 322.0 l3.1 3.1 M256.6 325.1 l3.1 -3.1 M256.9 319.5 l3.1 3.1 M256.9 322.6 l3.1 -3.1 M257.2 318.6 l3.1 3.1 M257.2 321.7 l3.1 -3.1 M257.8 317.4 l3.1 3.1 M257.8 320.5 l3.1 -3.1 M258.2 318.1 l3.1 3.1 M258.2 321.2 l3.1 -3.1 M258.6 323.4 l3.1 3.1 M258.6 326.5 l3.1 -3.1 M258.9 317.6 l3.1 3.1 M258.9 320.7 l3.1 -3.1 M259.4 318.8 l3.1 3.1 M259.4 321.9 l3.1 -3.1 M259.9 317.7 l3.1 3.1 M259.9 320.8 l3.1 -3.1 M260.4 323.4 l3.1 3.1 M260.4 326.5 l3.1 -3.1 M260.8 320.5 l3.1 3.1 M260.8 323.6 l3.1 -3.1 M261.1 321.7 l3.1 3.1 M261.1 324.8 l3.1 -3.1 M261.6 319.8 l3.1 3.1 M261.6 322.9 l3.1 -3.1 M261.9 319.6 l3.1 3.1 M261.9 322.7 l3.1 -3.1 M262.4 321.8 l3.1 3.1 M262.4 324.9 l3.1 -3.1 M262.9 317.3 l3.1 3.1 M262.9 320.4 l3.1 -3.1 M263.2 318.7 l3.1 3.1 M263.2 321.8 l3.1 -3.1 M263.7 317.6 l3.1 3.1 M263.7 320.7 l3.1 -3.1 M264.0 315.2 l3.1 3.1 M264.0 318.3 l3.1 -3.1 M264.4 316.9 l3.1 3.1 M264.4 320.0 l3.1 -3.1 M265.1 319.0 l3.1 3.1 M265.1 322.1 l3.1 -3.1 M265.4 318.7 l3.1 3.1 M265.4 321.8 l3.1 -3.1 M265.9 316.0 l3.1 3.1 M265.9 319.1 l3.1 -3.1 M266.3 312.1 l3.1 3.1 M266.3 315.2 l3.1 -3.1 M266.6 315.3 l3.1 3.1 M266.6 318.4 l3.1 -3.1 M266.9 314.7 l3.1 3.1 M266.9 317.8 l3.1 -3.1 M267.6 313.8 l3.1 3.1 M267.6 316.9 l3.1 -3.1 M267.9 312.3 l3.1 3.1 M267.9 315.4 l3.1 -3.1 M268.2 315.9 l3.1 3.1 M268.2 319.0 l3.1 -3.1 M268.5 311.4 l3.1 3.1 M268.5 314.5 l3.1 -3.1 M269.2 313.0 l3.1 3.1 M269.2 316.1 l3.1 -3.1 M269.4 314.3 l3.1 3.1 M269.4 317.4 l3.1 -3.1 M269.9 313.7 l3.1 3.1 M269.9 316.8 l3.1 -3.1 M270.3 313.3 l3.1 3.1 M270.3 316.4 l3.1 -3.1 M270.8 312.4 l3.1 3.1 M270.8 315.5 l3.1 -3.1 M271.1 310.9 l3.1 3.1 M271.1 314.0 l3.1 -3.1 M271.7 313.3 l3.1 3.1 M271.7 316.4 l3.1 -3.1 M271.9 315.3 l3.1 3.1 M271.9 318.4 l3.1 -3.1 M272.4 310.5 l3.1 3.1 M272.4 313.6 l3.1 -3.1 M272.9 311.5 l3.1 3.1 M272.9 314.6 l3.1 -3.1 M273.3 313.5 l3.1 3.1 M273.3 316.6 l3.1 -3.1 M273.6 313.7 l3.1 3.1 M273.6 316.8 l3.1 -3.1 M274.0 313.4 l3.1 3.1 M274.0 316.5 l3.1 -3.1 M274.6 310.7 l3.1 3.1 M274.6 313.8 l3.1 -3.1 M275.0 310.7 l3.1 3.1 M275.0 313.8 l3.1 -3.1 M275.4 315.8 l3.1 3.1 M275.4 318.9 l3.1 -3.1 M275.8 314.9 l3.1 3.1 M275.8 318.0 l3.1 -3.1 M276.3 311.1 l3.1 3.1 M276.3 314.2 l3.1 -3.1 M276.8 315.0 l3.1 3.1 M276.8 318.1 l3.1 -3.1 M277.0 315.8 l3.1 3.1 M277.0 318.9 l3.1 -3.1 M277.5 311.6 l3.1 3.1 M277.5 314.7 l3.1 -3.1 M278.1 314.2 l3.1 3.1 M278.1 317.3 l3.1 -3.1 M278.4 311.5 l3.1 3.1 M278.4 314.6 l3.1 -3.1 M278.9 311.0 l3.1 3.1 M278.9 314.1 l3.1 -3.1 M279.1 313.1 l3.1 3.1 M279.1 316.2 l3.1 -3.1 M279.5 314.6 l3.1 3.1 M279.5 317.7 l3.1 -3.1 M279.9 312.8 l3.1 3.1 M279.9 315.9 l3.1 -3.1 M280.5 313.8 l3.1 3.1 M280.5 316.9 l3.1 -3.1 M281.0 315.1 l3.1 3.1 M281.0 318.2 l3.1 -3.1 M281.4 314.9 l3.1 3.1 M281.4 318.0 l3.1 -3.1 M281.8 317.0 l3.1 3.1 M281.8 320.1 l3.1 -3.1 M282.0 316.3 l3.1 3.1 M282.0 319.4 l3.1 -3.1 M282.5 316.5 l3.1 3.1 M282.5 319.6 l3.1 -3.1 M283.0 317.1 l3.1 3.1 M283.0 320.2 l3.1 -3.1 M283.3 314.3 l3.1 3.1 M283.3 317.4 l3.1 -3.1 M283.9 318.2 l3.1 3.1 M283.9 321.3 l3.1 -3.1 M284.3 312.6 l3.1 3.1 M284.3 315.7 l3.1 -3.1 M284.7 313.1 l3.1 3.1 M284.7 316.2 l3.1 -3.1 M285.1 317.7 l3.1 3.1 M285.1 320.8 l3.1 -3.1 M285.4 318.7 l3.1 3.1 M285.4 321.8 l3.1 -3.1 M286.0 314.7 l3.1 3.1 M286.0 317.8 l3.1 -3.1 M286.2 316.2 l3.1 3.1 M286.2 319.3 l3.1 -3.1 M286.9 317.3 l3.1 3.1 M286.9 320.4 l3.1 -3.1 M287.1 314.0 l3.1 3.1 M287.1 317.1 l3.1 -3.1 M287.5 319.3 l3.1 3.1 M287.5 322.4 l3.1 -3.1 M287.9 317.9 l3.1 3.1 M287.9 321.0 l3.1 -3.1 M288.4 318.8 l3.1 3.1 M288.4 321.9 l3.1 -3.1 M288.8 315.5 l3.1 3.1 M288.8 318.6 l3.1 -3.1 M289.4 318.1 l3.1 3.1 M289.4 321.2 l3.1 -3.1 M289.8 301.7 l3.1 3.1 M289.8 304.8 l3.1 -3.1 M289.8 301.1 l3.1 3.1 M289.8 304.2 l3.1 -3.1 M289.8 301.2 l3.1 3.1 M289.8 304.3 l3.1 -3.1 M289.8 303.9 l3.1 3.1 M289.8 307.0 l3.1 -3.1 M290.3 298.9 l3.1 3.1 M290.3 302.0 l3.1 -3.1 M290.5 304.3 l3.1 3.1 M290.5 307.4 l3.1 -3.1 M291.1 302.0 l3.1 3.1 M291.1 305.1 l3.1 -3.1 M291.5 300.9 l3.1 3.1 M291.5 304.0 l3.1 -3.1 M292.0 302.8 l3.1 3.1 M292.0 305.9 l3.1 -3.1 M292.4 304.5 l3.1 3.1 M292.4 307.6 l3.1 -3.1 M292.6 303.0 l3.1 3.1 M292.6 306.1 l3.1 -3.1 M293.1 306.8 l3.1 3.1 M293.1 309.9 l3.1 -3.1 M293.6 301.5 l3.1 3.1 M293.6 304.6 l3.1 -3.1 M293.9 303.7 l3.1 3.1 M293.9 306.8 l3.1 -3.1 M294.4 305.2 l3.1 3.1 M294.4 308.3 l3.1 -3.1 M294.8 304.0 l3.1 3.1 M294.8 307.1 l3.1 -3.1 M295.1 305.5 l3.1 3.1 M295.1 308.6 l3.1 -3.1 M295.6 301.9 l3.1 3.1 M295.6 305.0 l3.1 -3.1 M296.1 308.0 l3.1 3.1 M296.1 311.1 l3.1 -3.1 M296.4 302.5 l3.1 3.1 M296.4 305.6 l3.1 -3.1 M297.0 303.3 l3.1 3.1 M297.0 306.4 l3.1 -3.1 M297.3 304.6 l3.1 3.1 M297.3 307.7 l3.1 -3.1 M297.7 305.0 l3.1 3.1 M297.7 308.1 l3.1 -3.1 M298.2 307.4 l3.1 3.1 M298.2 310.5 l3.1 -3.1 M298.8 301.4 l3.1 3.1 M298.8 304.5 l3.1 -3.1 M299.1 306.1 l3.1 3.1 M299.1 309.2 l3.1 -3.1 M299.6 306.0 l3.1 3.1 M299.6 309.1 l3.1 -3.1 M299.9 305.0 l3.1 3.1 M299.9 308.1 l3.1 -3.1 M300.3 302.7 l3.1 3.1 M300.3 305.8 l3.1 -3.1 M300.8 306.4 l3.1 3.1 M300.8 309.5 l3.1 -3.1 M301.3 305.1 l3.1 3.1 M301.3 308.2 l3.1 -3.1 M301.5 305.6 l3.1 3.1 M301.5 308.7 l3.1 -3.1 M302.1 304.4 l3.1 3.1 M302.1 307.5 l3.1 -3.1 M302.4 303.7 l3.1 3.1 M302.4 306.8 l3.1 -3.1 M302.8 304.4 l3.1 3.1 M302.8 307.5 l3.1 -3.1 M303.1 304.3 l3.1 3.1 M303.1 307.4 l3.1 -3.1 M303.6 308.8 l3.1 3.1 M303.6 311.9 l3.1 -3.1 M304.1 305.2 l3.1 3.1 M304.1 308.3 l3.1 -3.1 M304.4 304.9 l3.1 3.1 M304.4 308.0 l3.1 -3.1 M304.9 304.7 l3.1 3.1 M304.9 307.8 l3.1 -3.1 M305.2 309.8 l3.1 3.1 M305.2 312.9 l3.1 -3.1 M305.7 307.6 l3.1 3.1 M305.7 310.7 l3.1 -3.1 M306.2 307.1 l3.1 3.1 M306.2 310.2 l3.1 -3.1 M306.5 306.5 l3.1 3.1 M306.5 309.6 l3.1 -3.1 M307.0 309.0 l3.1 3.1 M307.0 312.1 l3.1 -3.1 M307.5 311.6 l3.1 3.1 M307.5 314.7 l3.1 -3.1 M307.9 312.3 l3.1 3.1 M307.9 315.4 l3.1 -3.1 M308.3 314.3 l3.1 3.1 M308.3 317.4 l3.1 -3.1 M210.8 293.4 l3.1 3.1 M210.8 296.6 l3.1 -3.1 M254.4 255.8 l3.1 3.1 M254.4 258.9 l3.1 -3.1 M254.4 260.1 l3.1 3.1 M254.4 263.2 l3.1 -3.1 M254.4 266.9 l3.1 3.1 M254.4 270.1 l3.1 -3.1 M254.4 270.1 l3.1 3.1 M254.4 273.2 l3.1 -3.1 M284.1 262.8 l3.1 3.1 M284.1 265.9 l3.1 -3.1 M284.4 268.8 l3.1 3.1 M284.4 271.9 l3.1 -3.1 M277.1 290.3 l3.1 3.1 M277.1 293.4 l3.1 -3.1 M277.9 293.2 l3.1 3.1 M277.9 296.4 l3.1 -3.1 M280.8 293.4 l3.1 3.1 M280.8 296.6 l3.1 -3.1 M285.8 287.8 l3.1 3.1 M285.8 290.9 l3.1 -3.1 M285.8 291.4 l3.1 3.1 M285.8 294.6 l3.1 -3.1 M287.1 294.8 l3.1 3.1 M287.1 297.9 l3.1 -3.1 M276.8 305.1 l3.1 3.1 M276.8 308.2 l3.1 -3.1 M284.1 304.4 l3.1 3.1 M284.1 307.6 l3.1 -3.1 M277.9 308.4 l3.1 3.1 M277.9 311.6 l3.1 -3.1 M285.4 322.4 l3.1 3.1 M285.4 325.6 l3.1 -3.1 M284.8 319.8 l3.1 3.1 M284.8 322.9 l3.1 -3.1 M231.4 296.9 l3.1 3.1 M231.4 300.1 l3.1 -3.1 M231.9 299.4 l3.1 3.1 M231.9 302.6 l3.1 -3.1" stroke="#0000ff" stroke-width="1.35" fill="none"/>
<path d="M36.4 181.2 H181" stroke="#000" stroke-width="1.1" opacity="0.55"/>
<path d="M36.4 356.6 H92" stroke="#000" stroke-width="1.0" opacity="0.5"/>
<g font-family="Liberation Sans, sans-serif" stroke-width="0.08">
<text x="29.4" y="57.9" font-size="11.0" text-anchor="end" fill="#000" stroke="#000" >2</text>
<text x="29.4" y="121.6" font-size="11.0" text-anchor="end" fill="#000" stroke="#000" >1</text>
<text x="29.4" y="185.2" font-size="11.0" text-anchor="end" fill="#000" stroke="#000" >0</text>
<text x="29.4" y="233.4" font-size="11.0" text-anchor="end" fill="#000" stroke="#000" >0.4</text>
<text x="29.4" y="296.9" font-size="11.0" text-anchor="end" fill="#000" stroke="#000" >0.2</text>
<text x="29.4" y="360.4" font-size="11.0" text-anchor="end" fill="#000" stroke="#000" >0</text>
<text x="36.0" y="371.9" font-size="11.0" text-anchor="middle" fill="#000" stroke="#000" >0</text>
<text x="173.7" y="371.9" font-size="11.0" text-anchor="middle" fill="#000" stroke="#000" >10000</text>
<text x="309.7" y="371.8" font-size="11.0" text-anchor="middle" fill="#000" stroke="#000" >20000</text>
<text x="213" y="376.4" font-size="14" stroke="#000">t/τ<tspan font-size="11.5" dy="4">0</tspan></text>
<text x="268.8" y="38.2" font-size="13.7" text-anchor="start" fill="#000" stroke="#000" >(a)</text>
<text x="268.8" y="213.8" font-size="13.7" text-anchor="start" fill="#000" stroke="#000" >(b)</text>
<text x="66.8" y="55.5" font-size="15" stroke="#000">C<tspan font-size="10.5" dy="3.2" dx="-0.9">bd</tspan><tspan font-size="10.5" dy="-11.2" dx="0.2">A</tspan><tspan font-size="14" dy="8.7" dx="-0.1">=</tspan></text>
<text x="66.8" y="274.4" font-size="15" stroke="#000">C<tspan font-size="10.5" dy="3.2" dx="-0.9">bd</tspan><tspan font-size="10.5" dy="-11.2" dx="0.2">A</tspan><tspan font-size="14" dy="8.7" dx="-0.1">=</tspan></text>
<text x="107.2" y="55.3" font-size="14.0" text-anchor="start" fill="#ff0000" stroke="#ff0000" >0.8</text>
<text x="108.6" y="98.3" font-size="14.0" text-anchor="start" fill="#0000ff" stroke="#0000ff" >1.2</text>
<text x="172.6" y="98.6" font-size="14.0" text-anchor="start" fill="#ff0000" stroke="#ff0000" >0.8</text>
<text x="192.2" y="160.2" font-size="14.0" text-anchor="start" fill="#0000ff" stroke="#0000ff" >1.2</text>
<text x="107.2" y="274.2" font-size="14.0" text-anchor="start" fill="#0000ff" stroke="#0000ff" >1.2</text>
<text x="159.4" y="221.5" font-size="14.0" text-anchor="start" fill="#ff0000" stroke="#ff0000" >0.8</text>
<text transform="translate(13.6 123.8) rotate(-90)" font-size="14" stroke="#000">N<tspan font-size="10.5" dy="4">clus</tspan><tspan font-size="14" dy="-4">/N</tspan><tspan font-size="10.5" dy="4">int</tspan></text>
<text transform="translate(13.0 268.3) rotate(-90)" font-size="15.5" stroke="#000">α<tspan font-size="11" dy="3.4">sp</tspan></text>
</g>
</svg>
</body></html>
